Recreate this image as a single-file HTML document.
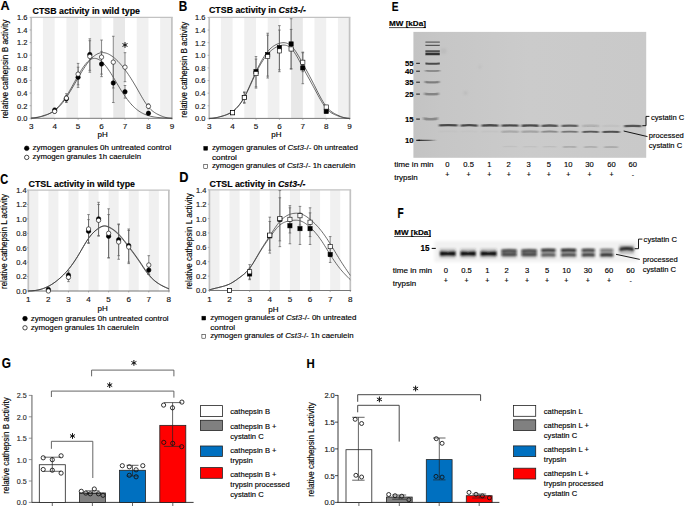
<!DOCTYPE html><html><head><meta charset="utf-8"><style>html,body{margin:0;padding:0;background:#fff;}svg{display:block;} svg text{stroke:#000;stroke-width:0.15px;}</style></head><body><svg width="685" height="506" viewBox="0 0 685 506" font-family='"Liberation Sans", sans-serif'>
<rect width="685" height="506" fill="#fff"/>
<rect x="42.92" y="17.34" width="11.73" height="100.96" fill="#f0f0f0"/>
<rect x="66.38" y="17.34" width="11.72" height="100.96" fill="#f0f0f0"/>
<rect x="89.83" y="17.34" width="11.72" height="100.96" fill="#f0f0f0"/>
<rect x="113.28" y="17.34" width="11.72" height="100.96" fill="#e8e8e8"/>
<rect x="136.72" y="17.34" width="11.72" height="100.96" fill="#f0f0f0"/>
<rect x="160.17" y="17.34" width="11.72" height="100.96" fill="#f0f0f0"/>
<line x1="31.00" y1="17.34" x2="172.70" y2="17.34" stroke="#c2c2c2" stroke-width="1.3"/>
<line x1="171.90" y1="17.34" x2="171.90" y2="118.30" stroke="#c2c2c2" stroke-width="1.7"/>
<line x1="31.20" y1="17.34" x2="31.20" y2="118.30" stroke="#c2c2c2" stroke-width="1.7"/>
<line x1="29.60" y1="118.30" x2="31.20" y2="118.30" stroke="#999" stroke-width="0.7"/>
<text x="27.40" y="121.20" font-size="8.1" text-anchor="end" textLength="10.40" lengthAdjust="spacingAndGlyphs" fill="#1a1a1a">0.0</text>
<line x1="29.60" y1="105.68" x2="31.20" y2="105.68" stroke="#999" stroke-width="0.7"/>
<text x="27.40" y="108.58" font-size="8.1" text-anchor="end" textLength="10.40" lengthAdjust="spacingAndGlyphs" fill="#1a1a1a">0.2</text>
<line x1="29.60" y1="93.06" x2="31.20" y2="93.06" stroke="#999" stroke-width="0.7"/>
<text x="27.40" y="95.96" font-size="8.1" text-anchor="end" textLength="10.40" lengthAdjust="spacingAndGlyphs" fill="#1a1a1a">0.4</text>
<line x1="29.60" y1="80.44" x2="31.20" y2="80.44" stroke="#999" stroke-width="0.7"/>
<text x="27.40" y="83.34" font-size="8.1" text-anchor="end" textLength="10.40" lengthAdjust="spacingAndGlyphs" fill="#1a1a1a">0.6</text>
<line x1="29.60" y1="67.82" x2="31.20" y2="67.82" stroke="#999" stroke-width="0.7"/>
<text x="27.40" y="70.72" font-size="8.1" text-anchor="end" textLength="10.40" lengthAdjust="spacingAndGlyphs" fill="#1a1a1a">0.8</text>
<line x1="29.60" y1="55.20" x2="31.20" y2="55.20" stroke="#999" stroke-width="0.7"/>
<text x="27.40" y="58.10" font-size="8.1" text-anchor="end" textLength="10.40" lengthAdjust="spacingAndGlyphs" fill="#1a1a1a">1.0</text>
<line x1="29.60" y1="42.58" x2="31.20" y2="42.58" stroke="#999" stroke-width="0.7"/>
<text x="27.40" y="45.48" font-size="8.1" text-anchor="end" textLength="10.40" lengthAdjust="spacingAndGlyphs" fill="#1a1a1a">1.2</text>
<line x1="29.60" y1="29.96" x2="31.20" y2="29.96" stroke="#999" stroke-width="0.7"/>
<text x="27.40" y="32.86" font-size="8.1" text-anchor="end" textLength="10.40" lengthAdjust="spacingAndGlyphs" fill="#1a1a1a">1.4</text>
<line x1="29.60" y1="17.34" x2="31.20" y2="17.34" stroke="#999" stroke-width="0.7"/>
<text x="27.40" y="20.24" font-size="8.1" text-anchor="end" textLength="10.40" lengthAdjust="spacingAndGlyphs" fill="#1a1a1a">1.6</text>
<line x1="31.20" y1="118.30" x2="172.70" y2="118.30" stroke="#777" stroke-width="1.0"/>
<line x1="31.20" y1="118.30" x2="31.20" y2="119.70" stroke="#888" stroke-width="0.7"/>
<text x="31.20" y="129.10" font-size="8.1" text-anchor="middle" fill="#1a1a1a">3</text>
<line x1="54.65" y1="118.30" x2="54.65" y2="119.70" stroke="#888" stroke-width="0.7"/>
<text x="54.65" y="129.10" font-size="8.1" text-anchor="middle" fill="#1a1a1a">4</text>
<line x1="78.10" y1="118.30" x2="78.10" y2="119.70" stroke="#888" stroke-width="0.7"/>
<text x="78.10" y="129.10" font-size="8.1" text-anchor="middle" fill="#1a1a1a">5</text>
<line x1="101.55" y1="118.30" x2="101.55" y2="119.70" stroke="#888" stroke-width="0.7"/>
<text x="101.55" y="129.10" font-size="8.1" text-anchor="middle" fill="#1a1a1a">6</text>
<line x1="125.00" y1="118.30" x2="125.00" y2="119.70" stroke="#888" stroke-width="0.7"/>
<text x="125.00" y="129.10" font-size="8.1" text-anchor="middle" fill="#1a1a1a">7</text>
<line x1="148.45" y1="118.30" x2="148.45" y2="119.70" stroke="#888" stroke-width="0.7"/>
<text x="148.45" y="129.10" font-size="8.1" text-anchor="middle" fill="#1a1a1a">8</text>
<line x1="171.90" y1="118.30" x2="171.90" y2="119.70" stroke="#888" stroke-width="0.7"/>
<text x="171.90" y="129.10" font-size="8.1" text-anchor="middle" fill="#1a1a1a">9</text>
<path d="M31.20,118.30 L32.37,118.20 L33.55,118.09 L34.72,117.95 L35.89,117.77 L37.06,117.54 L38.23,117.25 L39.41,116.92 L40.58,116.55 L41.75,116.16 L42.92,115.78 L44.10,115.40 L45.27,115.03 L46.44,114.66 L47.62,114.26 L48.79,113.83 L49.96,113.35 L51.13,112.82 L52.30,112.21 L53.48,111.52 L54.65,110.73 L55.82,109.83 L56.99,108.83 L58.17,107.73 L59.34,106.53 L60.51,105.23 L61.68,103.85 L62.86,102.38 L64.03,100.82 L65.20,99.19 L66.38,97.48 L67.55,95.70 L68.72,93.85 L69.89,91.95 L71.06,90.01 L72.24,88.03 L73.41,86.03 L74.58,84.00 L75.76,81.97 L76.93,79.94 L78.10,77.92 L79.27,75.91 L80.44,73.93 L81.62,71.99 L82.79,70.10 L83.96,68.26 L85.14,66.49 L86.31,64.79 L87.48,63.18 L88.65,61.66 L89.83,60.25 L91.00,58.95 L92.17,57.76 L93.34,56.70 L94.52,55.75 L95.69,54.92 L96.86,54.22 L98.03,53.64 L99.21,53.19 L100.38,52.87 L101.55,52.68 L102.72,52.62 L103.89,52.68 L105.07,52.87 L106.24,53.17 L107.41,53.58 L108.59,54.10 L109.76,54.72 L110.93,55.42 L112.10,56.22 L113.28,57.09 L114.45,58.04 L115.62,59.07 L116.79,60.17 L117.97,61.34 L119.14,62.57 L120.31,63.87 L121.48,65.24 L122.66,66.67 L123.83,68.16 L125.00,69.71 L126.17,71.32 L127.35,72.98 L128.52,74.70 L129.69,76.47 L130.86,78.28 L132.03,80.15 L133.21,82.05 L134.38,84.00 L135.55,85.99 L136.72,88.01 L137.90,90.07 L139.07,92.14 L140.24,94.21 L141.41,96.25 L142.59,98.26 L143.76,100.20 L144.93,102.05 L146.10,103.81 L147.28,105.45 L148.45,106.94 L149.62,108.28 L150.80,109.48 L151.97,110.54 L153.14,111.49 L154.31,112.33 L155.49,113.08 L156.66,113.76 L157.83,114.37 L159.00,114.93 L160.17,115.46 L161.35,115.96 L162.52,116.43 L163.69,116.86 L164.86,117.23 L166.04,117.54 L167.21,117.78 L168.38,117.96 L169.56,118.10 L170.73,118.21 L171.90,118.30" fill="none" stroke="#3a3a3a" stroke-width="0.75" stroke-linejoin="round"/>
<path d="M31.20,117.90 L32.37,117.82 L33.55,117.73 L34.72,117.62 L35.89,117.49 L37.06,117.34 L38.23,117.17 L39.41,116.96 L40.58,116.73 L41.75,116.47 L42.92,116.16 L44.10,115.82 L45.27,115.43 L46.44,114.98 L47.62,114.49 L48.79,113.93 L49.96,113.31 L51.13,112.63 L52.30,111.87 L53.48,111.03 L54.65,110.11 L55.82,109.11 L56.99,108.02 L58.17,106.84 L59.34,105.57 L60.51,104.21 L61.68,102.76 L62.86,101.22 L64.03,99.58 L65.20,97.87 L66.38,96.07 L67.55,94.19 L68.72,92.25 L69.89,90.25 L71.06,88.20 L72.24,86.11 L73.41,83.99 L74.58,81.86 L75.76,79.73 L76.93,77.61 L78.10,75.53 L79.27,73.49 L80.44,71.52 L81.62,69.63 L82.79,67.84 L83.96,66.16 L85.14,64.61 L86.31,63.21 L87.48,61.96 L88.65,60.88 L89.83,59.98 L91.00,59.28 L92.17,58.77 L93.34,58.46 L94.52,58.35 L95.69,58.44 L96.86,58.71 L98.03,59.15 L99.21,59.75 L100.38,60.53 L101.55,61.46 L102.72,62.54 L103.89,63.76 L105.07,65.11 L106.24,66.59 L107.41,68.16 L108.59,69.84 L109.76,71.60 L110.93,73.42 L112.10,75.30 L113.28,77.23 L114.45,79.18 L115.62,81.15 L116.79,83.13 L117.97,85.10 L119.14,87.05 L120.31,88.97 L121.48,90.86 L122.66,92.70 L123.83,94.48 L125.00,96.21 L126.17,97.87 L127.35,99.47 L128.52,100.99 L129.69,102.43 L130.86,103.80 L132.03,105.09 L133.21,106.30 L134.38,107.43 L135.55,108.48 L136.72,109.46 L137.90,110.36 L139.07,111.19 L140.24,111.96 L141.41,112.66 L142.59,113.29 L143.76,113.87 L144.93,114.39 L146.10,114.86 L147.28,115.29 L148.45,115.67 L149.62,116.00 L150.80,116.30 L151.97,116.57 L153.14,116.81 L154.31,117.01 L155.49,117.19 L156.66,117.35 L157.83,117.49 L159.00,117.61 L160.17,117.72 L161.35,117.81 L162.52,117.88 L163.69,117.95 L164.86,118.01 L166.04,118.05 L167.21,118.09 L168.38,118.13 L169.56,118.16 L170.73,118.18 L171.90,118.20" fill="none" stroke="#3a3a3a" stroke-width="0.75" stroke-linejoin="round"/>
<line x1="54.65" y1="108.20" x2="54.65" y2="111.99" stroke="#5a5a5a" stroke-width="0.7"/>
<line x1="53.35" y1="108.20" x2="55.95" y2="108.20" stroke="#5a5a5a" stroke-width="0.7"/>
<line x1="53.35" y1="111.99" x2="55.95" y2="111.99" stroke="#5a5a5a" stroke-width="0.7"/>
<line x1="66.38" y1="95.58" x2="66.38" y2="101.89" stroke="#5a5a5a" stroke-width="0.7"/>
<line x1="65.08" y1="95.58" x2="67.67" y2="95.58" stroke="#5a5a5a" stroke-width="0.7"/>
<line x1="65.08" y1="101.89" x2="67.67" y2="101.89" stroke="#5a5a5a" stroke-width="0.7"/>
<line x1="78.10" y1="67.19" x2="78.10" y2="87.38" stroke="#5a5a5a" stroke-width="0.7"/>
<line x1="76.80" y1="67.19" x2="79.40" y2="67.19" stroke="#5a5a5a" stroke-width="0.7"/>
<line x1="76.80" y1="87.38" x2="79.40" y2="87.38" stroke="#5a5a5a" stroke-width="0.7"/>
<line x1="89.83" y1="38.79" x2="89.83" y2="70.34" stroke="#5a5a5a" stroke-width="0.7"/>
<line x1="88.53" y1="38.79" x2="91.12" y2="38.79" stroke="#5a5a5a" stroke-width="0.7"/>
<line x1="88.53" y1="70.34" x2="91.12" y2="70.34" stroke="#5a5a5a" stroke-width="0.7"/>
<line x1="101.55" y1="51.41" x2="101.55" y2="76.65" stroke="#5a5a5a" stroke-width="0.7"/>
<line x1="100.25" y1="51.41" x2="102.85" y2="51.41" stroke="#5a5a5a" stroke-width="0.7"/>
<line x1="100.25" y1="76.65" x2="102.85" y2="76.65" stroke="#5a5a5a" stroke-width="0.7"/>
<line x1="113.28" y1="63.40" x2="113.28" y2="102.52" stroke="#5a5a5a" stroke-width="0.7"/>
<line x1="111.98" y1="63.40" x2="114.58" y2="63.40" stroke="#5a5a5a" stroke-width="0.7"/>
<line x1="111.98" y1="102.52" x2="114.58" y2="102.52" stroke="#5a5a5a" stroke-width="0.7"/>
<line x1="125.00" y1="85.49" x2="125.00" y2="98.11" stroke="#5a5a5a" stroke-width="0.7"/>
<line x1="123.70" y1="85.49" x2="126.30" y2="85.49" stroke="#5a5a5a" stroke-width="0.7"/>
<line x1="123.70" y1="98.11" x2="126.30" y2="98.11" stroke="#5a5a5a" stroke-width="0.7"/>
<line x1="148.45" y1="111.36" x2="148.45" y2="115.14" stroke="#5a5a5a" stroke-width="0.7"/>
<line x1="147.15" y1="111.36" x2="149.75" y2="111.36" stroke="#5a5a5a" stroke-width="0.7"/>
<line x1="147.15" y1="115.14" x2="149.75" y2="115.14" stroke="#5a5a5a" stroke-width="0.7"/>
<line x1="54.65" y1="109.47" x2="54.65" y2="113.25" stroke="#5a5a5a" stroke-width="0.7"/>
<line x1="53.35" y1="109.47" x2="55.95" y2="109.47" stroke="#5a5a5a" stroke-width="0.7"/>
<line x1="53.35" y1="113.25" x2="55.95" y2="113.25" stroke="#5a5a5a" stroke-width="0.7"/>
<line x1="66.38" y1="93.69" x2="66.38" y2="102.52" stroke="#5a5a5a" stroke-width="0.7"/>
<line x1="65.08" y1="93.69" x2="67.67" y2="93.69" stroke="#5a5a5a" stroke-width="0.7"/>
<line x1="65.08" y1="102.52" x2="67.67" y2="102.52" stroke="#5a5a5a" stroke-width="0.7"/>
<line x1="78.10" y1="63.40" x2="78.10" y2="84.86" stroke="#5a5a5a" stroke-width="0.7"/>
<line x1="76.80" y1="63.40" x2="79.40" y2="63.40" stroke="#5a5a5a" stroke-width="0.7"/>
<line x1="76.80" y1="84.86" x2="79.40" y2="84.86" stroke="#5a5a5a" stroke-width="0.7"/>
<line x1="89.83" y1="40.69" x2="89.83" y2="72.24" stroke="#5a5a5a" stroke-width="0.7"/>
<line x1="88.53" y1="40.69" x2="91.12" y2="40.69" stroke="#5a5a5a" stroke-width="0.7"/>
<line x1="88.53" y1="72.24" x2="91.12" y2="72.24" stroke="#5a5a5a" stroke-width="0.7"/>
<line x1="101.55" y1="40.06" x2="101.55" y2="74.13" stroke="#5a5a5a" stroke-width="0.7"/>
<line x1="100.25" y1="40.06" x2="102.85" y2="40.06" stroke="#5a5a5a" stroke-width="0.7"/>
<line x1="100.25" y1="74.13" x2="102.85" y2="74.13" stroke="#5a5a5a" stroke-width="0.7"/>
<line x1="113.28" y1="36.27" x2="113.28" y2="88.01" stroke="#5a5a5a" stroke-width="0.7"/>
<line x1="111.98" y1="36.27" x2="114.58" y2="36.27" stroke="#5a5a5a" stroke-width="0.7"/>
<line x1="111.98" y1="88.01" x2="114.58" y2="88.01" stroke="#5a5a5a" stroke-width="0.7"/>
<line x1="125.00" y1="52.68" x2="125.00" y2="81.70" stroke="#5a5a5a" stroke-width="0.7"/>
<line x1="123.70" y1="52.68" x2="126.30" y2="52.68" stroke="#5a5a5a" stroke-width="0.7"/>
<line x1="123.70" y1="81.70" x2="126.30" y2="81.70" stroke="#5a5a5a" stroke-width="0.7"/>
<line x1="148.45" y1="103.79" x2="148.45" y2="108.83" stroke="#5a5a5a" stroke-width="0.7"/>
<line x1="147.15" y1="103.79" x2="149.75" y2="103.79" stroke="#5a5a5a" stroke-width="0.7"/>
<line x1="147.15" y1="108.83" x2="149.75" y2="108.83" stroke="#5a5a5a" stroke-width="0.7"/>
<circle cx="54.65" cy="110.10" r="2.2" fill="#000" stroke="#000" stroke-width="0.6"/>
<circle cx="66.38" cy="98.74" r="2.2" fill="#000" stroke="#000" stroke-width="0.6"/>
<circle cx="78.10" cy="77.28" r="2.2" fill="#000" stroke="#000" stroke-width="0.6"/>
<circle cx="89.83" cy="54.57" r="2.2" fill="#000" stroke="#000" stroke-width="0.6"/>
<circle cx="101.55" cy="64.03" r="2.2" fill="#000" stroke="#000" stroke-width="0.6"/>
<circle cx="113.28" cy="82.96" r="2.2" fill="#000" stroke="#000" stroke-width="0.6"/>
<circle cx="125.00" cy="91.80" r="2.2" fill="#000" stroke="#000" stroke-width="0.6"/>
<circle cx="148.45" cy="113.25" r="2.2" fill="#000" stroke="#000" stroke-width="0.6"/>
<circle cx="54.65" cy="111.36" r="2.2" fill="#fff" stroke="#000" stroke-width="0.6"/>
<circle cx="66.38" cy="98.11" r="2.2" fill="#fff" stroke="#000" stroke-width="0.6"/>
<circle cx="78.10" cy="74.13" r="2.2" fill="#fff" stroke="#000" stroke-width="0.6"/>
<circle cx="89.83" cy="56.46" r="2.2" fill="#fff" stroke="#000" stroke-width="0.6"/>
<circle cx="101.55" cy="57.09" r="2.2" fill="#fff" stroke="#000" stroke-width="0.6"/>
<circle cx="113.28" cy="62.14" r="2.2" fill="#fff" stroke="#000" stroke-width="0.6"/>
<circle cx="125.00" cy="67.19" r="2.2" fill="#fff" stroke="#000" stroke-width="0.6"/>
<circle cx="148.45" cy="106.31" r="2.2" fill="#fff" stroke="#000" stroke-width="0.6"/>
<rect x="220.90" y="17.44" width="11.70" height="100.96" fill="#f0f0f0"/>
<rect x="244.30" y="17.44" width="11.70" height="100.96" fill="#f0f0f0"/>
<rect x="267.70" y="17.44" width="11.70" height="100.96" fill="#f0f0f0"/>
<rect x="291.10" y="17.44" width="11.70" height="100.96" fill="#e8e8e8"/>
<rect x="314.50" y="17.44" width="11.70" height="100.96" fill="#f0f0f0"/>
<rect x="337.90" y="17.44" width="11.70" height="100.96" fill="#f0f0f0"/>
<line x1="209.00" y1="17.44" x2="350.40" y2="17.44" stroke="#c2c2c2" stroke-width="1.3"/>
<line x1="349.60" y1="17.44" x2="349.60" y2="118.40" stroke="#c2c2c2" stroke-width="1.7"/>
<line x1="209.20" y1="17.44" x2="209.20" y2="118.40" stroke="#c2c2c2" stroke-width="1.7"/>
<line x1="207.60" y1="118.40" x2="209.20" y2="118.40" stroke="#999" stroke-width="0.7"/>
<text x="205.50" y="121.30" font-size="8.1" text-anchor="end" textLength="10.40" lengthAdjust="spacingAndGlyphs" fill="#1a1a1a">0.0</text>
<line x1="207.60" y1="105.78" x2="209.20" y2="105.78" stroke="#999" stroke-width="0.7"/>
<text x="205.50" y="108.68" font-size="8.1" text-anchor="end" textLength="10.40" lengthAdjust="spacingAndGlyphs" fill="#1a1a1a">0.2</text>
<line x1="207.60" y1="93.16" x2="209.20" y2="93.16" stroke="#999" stroke-width="0.7"/>
<text x="205.50" y="96.06" font-size="8.1" text-anchor="end" textLength="10.40" lengthAdjust="spacingAndGlyphs" fill="#1a1a1a">0.4</text>
<line x1="207.60" y1="80.54" x2="209.20" y2="80.54" stroke="#999" stroke-width="0.7"/>
<text x="205.50" y="83.44" font-size="8.1" text-anchor="end" textLength="10.40" lengthAdjust="spacingAndGlyphs" fill="#1a1a1a">0.6</text>
<line x1="207.60" y1="67.92" x2="209.20" y2="67.92" stroke="#999" stroke-width="0.7"/>
<text x="205.50" y="70.82" font-size="8.1" text-anchor="end" textLength="10.40" lengthAdjust="spacingAndGlyphs" fill="#1a1a1a">0.8</text>
<line x1="207.60" y1="55.30" x2="209.20" y2="55.30" stroke="#999" stroke-width="0.7"/>
<text x="205.50" y="58.20" font-size="8.1" text-anchor="end" textLength="10.40" lengthAdjust="spacingAndGlyphs" fill="#1a1a1a">1.0</text>
<line x1="207.60" y1="42.68" x2="209.20" y2="42.68" stroke="#999" stroke-width="0.7"/>
<text x="205.50" y="45.58" font-size="8.1" text-anchor="end" textLength="10.40" lengthAdjust="spacingAndGlyphs" fill="#1a1a1a">1.2</text>
<line x1="207.60" y1="30.06" x2="209.20" y2="30.06" stroke="#999" stroke-width="0.7"/>
<text x="205.50" y="32.96" font-size="8.1" text-anchor="end" textLength="10.40" lengthAdjust="spacingAndGlyphs" fill="#1a1a1a">1.4</text>
<line x1="207.60" y1="17.44" x2="209.20" y2="17.44" stroke="#999" stroke-width="0.7"/>
<text x="205.50" y="20.34" font-size="8.1" text-anchor="end" textLength="10.40" lengthAdjust="spacingAndGlyphs" fill="#1a1a1a">1.6</text>
<line x1="209.20" y1="118.40" x2="350.40" y2="118.40" stroke="#777" stroke-width="1.0"/>
<line x1="209.20" y1="118.40" x2="209.20" y2="119.80" stroke="#888" stroke-width="0.7"/>
<text x="209.20" y="129.10" font-size="8.1" text-anchor="middle" fill="#1a1a1a">3</text>
<line x1="232.60" y1="118.40" x2="232.60" y2="119.80" stroke="#888" stroke-width="0.7"/>
<text x="232.60" y="129.10" font-size="8.1" text-anchor="middle" fill="#1a1a1a">4</text>
<line x1="256.00" y1="118.40" x2="256.00" y2="119.80" stroke="#888" stroke-width="0.7"/>
<text x="256.00" y="129.10" font-size="8.1" text-anchor="middle" fill="#1a1a1a">5</text>
<line x1="279.40" y1="118.40" x2="279.40" y2="119.80" stroke="#888" stroke-width="0.7"/>
<text x="279.40" y="129.10" font-size="8.1" text-anchor="middle" fill="#1a1a1a">6</text>
<line x1="302.80" y1="118.40" x2="302.80" y2="119.80" stroke="#888" stroke-width="0.7"/>
<text x="302.80" y="129.10" font-size="8.1" text-anchor="middle" fill="#1a1a1a">7</text>
<line x1="326.20" y1="118.40" x2="326.20" y2="119.80" stroke="#888" stroke-width="0.7"/>
<text x="326.20" y="129.10" font-size="8.1" text-anchor="middle" fill="#1a1a1a">8</text>
<line x1="349.60" y1="118.40" x2="349.60" y2="119.80" stroke="#888" stroke-width="0.7"/>
<text x="349.60" y="129.10" font-size="8.1" text-anchor="middle" fill="#1a1a1a">9</text>
<path d="M209.20,118.40 L210.37,118.34 L211.54,118.27 L212.71,118.18 L213.88,118.06 L215.05,117.90 L216.22,117.68 L217.39,117.43 L218.56,117.14 L219.73,116.83 L220.90,116.51 L222.07,116.18 L223.24,115.84 L224.41,115.47 L225.58,115.08 L226.75,114.64 L227.92,114.15 L229.09,113.60 L230.26,112.97 L231.43,112.26 L232.60,111.46 L233.77,110.56 L234.94,109.54 L236.11,108.42 L237.28,107.18 L238.45,105.81 L239.62,104.32 L240.79,102.69 L241.96,100.92 L243.13,99.01 L244.30,96.95 L245.47,94.73 L246.64,92.39 L247.81,89.94 L248.98,87.40 L250.15,84.80 L251.32,82.16 L252.49,79.51 L253.66,76.87 L254.83,74.26 L256.00,71.71 L257.17,69.23 L258.34,66.83 L259.51,64.53 L260.68,62.33 L261.85,60.23 L263.02,58.24 L264.19,56.37 L265.36,54.62 L266.53,53.00 L267.70,51.51 L268.87,50.17 L270.04,48.96 L271.21,47.87 L272.38,46.91 L273.55,46.07 L274.72,45.33 L275.89,44.69 L277.06,44.14 L278.23,43.69 L279.40,43.31 L280.57,43.01 L281.74,42.80 L282.91,42.69 L284.08,42.69 L285.25,42.82 L286.42,43.09 L287.59,43.51 L288.76,44.10 L289.93,44.87 L291.10,45.84 L292.27,47.00 L293.44,48.35 L294.61,49.87 L295.78,51.53 L296.95,53.33 L298.12,55.23 L299.29,57.21 L300.46,59.27 L301.63,61.37 L302.80,63.50 L303.97,65.65 L305.14,67.80 L306.31,69.97 L307.48,72.14 L308.65,74.34 L309.82,76.55 L310.99,78.78 L312.16,81.03 L313.33,83.30 L314.50,85.59 L315.67,87.90 L316.84,90.22 L318.01,92.52 L319.18,94.78 L320.35,96.99 L321.52,99.12 L322.69,101.14 L323.86,103.05 L325.03,104.81 L326.20,106.41 L327.37,107.84 L328.54,109.09 L329.71,110.20 L330.88,111.18 L332.05,112.04 L333.22,112.81 L334.39,113.50 L335.56,114.12 L336.73,114.70 L337.90,115.25 L339.07,115.78 L340.24,116.28 L341.41,116.75 L342.58,117.17 L343.75,117.52 L344.92,117.79 L346.09,118.00 L347.26,118.16 L348.43,118.29 L349.60,118.40" fill="none" stroke="#3a3a3a" stroke-width="0.75" stroke-linejoin="round"/>
<path d="M209.20,118.40 L210.37,118.34 L211.54,118.27 L212.71,118.18 L213.88,118.06 L215.05,117.90 L216.22,117.68 L217.39,117.43 L218.56,117.14 L219.73,116.83 L220.90,116.51 L222.07,116.17 L223.24,115.82 L224.41,115.44 L225.58,115.04 L226.75,114.59 L227.92,114.09 L229.09,113.54 L230.26,112.92 L231.43,112.23 L232.60,111.46 L233.77,110.60 L234.94,109.64 L236.11,108.57 L237.28,107.39 L238.45,106.10 L239.62,104.67 L240.79,103.12 L241.96,101.42 L243.13,99.58 L244.30,97.58 L245.47,95.42 L246.64,93.13 L247.81,90.72 L248.98,88.23 L250.15,85.69 L251.32,83.11 L252.49,80.52 L253.66,77.95 L254.83,75.42 L256.00,72.97 L257.17,70.61 L258.34,68.34 L259.51,66.18 L260.68,64.12 L261.85,62.16 L263.02,60.31 L264.19,58.57 L265.36,56.95 L266.53,55.43 L267.70,54.04 L268.87,52.76 L270.04,51.60 L271.21,50.54 L272.38,49.59 L273.55,48.74 L274.72,47.99 L275.89,47.32 L277.06,46.75 L278.23,46.25 L279.40,45.84 L280.57,45.49 L281.74,45.24 L282.91,45.09 L284.08,45.07 L285.25,45.18 L286.42,45.44 L287.59,45.88 L288.76,46.50 L289.93,47.32 L291.10,48.36 L292.27,49.63 L293.44,51.10 L294.61,52.76 L295.78,54.58 L296.95,56.53 L298.12,58.58 L299.29,60.70 L300.46,62.88 L301.63,65.09 L302.80,67.29 L303.97,69.47 L305.14,71.63 L306.31,73.77 L307.48,75.91 L308.65,78.03 L309.82,80.16 L310.99,82.28 L312.16,84.42 L313.33,86.57 L314.50,88.74 L315.67,90.93 L316.84,93.13 L318.01,95.31 L319.18,97.44 L320.35,99.52 L321.52,101.52 L322.69,103.42 L323.86,105.20 L325.03,106.83 L326.20,108.30 L327.37,109.60 L328.54,110.72 L329.71,111.70 L330.88,112.55 L332.05,113.28 L333.22,113.92 L334.39,114.48 L335.56,114.98 L336.73,115.44 L337.90,115.88 L339.07,116.30 L340.24,116.71 L341.41,117.09 L342.58,117.42 L343.75,117.71 L344.92,117.92 L346.09,118.09 L347.26,118.22 L348.43,118.31 L349.60,118.40" fill="none" stroke="#3a3a3a" stroke-width="0.75" stroke-linejoin="round"/>
<line x1="232.60" y1="111.46" x2="232.60" y2="113.98" stroke="#5a5a5a" stroke-width="0.7"/>
<line x1="231.30" y1="111.46" x2="233.90" y2="111.46" stroke="#5a5a5a" stroke-width="0.7"/>
<line x1="231.30" y1="113.98" x2="233.90" y2="113.98" stroke="#5a5a5a" stroke-width="0.7"/>
<line x1="244.30" y1="92.53" x2="244.30" y2="102.62" stroke="#5a5a5a" stroke-width="0.7"/>
<line x1="243.00" y1="92.53" x2="245.60" y2="92.53" stroke="#5a5a5a" stroke-width="0.7"/>
<line x1="243.00" y1="102.62" x2="245.60" y2="102.62" stroke="#5a5a5a" stroke-width="0.7"/>
<line x1="256.00" y1="56.56" x2="256.00" y2="86.85" stroke="#5a5a5a" stroke-width="0.7"/>
<line x1="254.70" y1="56.56" x2="257.30" y2="56.56" stroke="#5a5a5a" stroke-width="0.7"/>
<line x1="254.70" y1="86.85" x2="257.30" y2="86.85" stroke="#5a5a5a" stroke-width="0.7"/>
<line x1="267.70" y1="33.22" x2="267.70" y2="76.12" stroke="#5a5a5a" stroke-width="0.7"/>
<line x1="266.40" y1="33.22" x2="269.00" y2="33.22" stroke="#5a5a5a" stroke-width="0.7"/>
<line x1="266.40" y1="76.12" x2="269.00" y2="76.12" stroke="#5a5a5a" stroke-width="0.7"/>
<line x1="279.40" y1="25.64" x2="279.40" y2="69.81" stroke="#5a5a5a" stroke-width="0.7"/>
<line x1="278.10" y1="25.64" x2="280.70" y2="25.64" stroke="#5a5a5a" stroke-width="0.7"/>
<line x1="278.10" y1="69.81" x2="280.70" y2="69.81" stroke="#5a5a5a" stroke-width="0.7"/>
<line x1="291.10" y1="18.70" x2="291.10" y2="69.18" stroke="#5a5a5a" stroke-width="0.7"/>
<line x1="289.80" y1="18.70" x2="292.40" y2="18.70" stroke="#5a5a5a" stroke-width="0.7"/>
<line x1="289.80" y1="69.18" x2="292.40" y2="69.18" stroke="#5a5a5a" stroke-width="0.7"/>
<line x1="302.80" y1="52.14" x2="302.80" y2="83.69" stroke="#5a5a5a" stroke-width="0.7"/>
<line x1="301.50" y1="52.14" x2="304.10" y2="52.14" stroke="#5a5a5a" stroke-width="0.7"/>
<line x1="301.50" y1="83.69" x2="304.10" y2="83.69" stroke="#5a5a5a" stroke-width="0.7"/>
<line x1="326.20" y1="110.20" x2="326.20" y2="112.72" stroke="#5a5a5a" stroke-width="0.7"/>
<line x1="324.90" y1="110.20" x2="327.50" y2="110.20" stroke="#5a5a5a" stroke-width="0.7"/>
<line x1="324.90" y1="112.72" x2="327.50" y2="112.72" stroke="#5a5a5a" stroke-width="0.7"/>
<line x1="232.60" y1="111.46" x2="232.60" y2="113.98" stroke="#5a5a5a" stroke-width="0.7"/>
<line x1="231.30" y1="111.46" x2="233.90" y2="111.46" stroke="#5a5a5a" stroke-width="0.7"/>
<line x1="231.30" y1="113.98" x2="233.90" y2="113.98" stroke="#5a5a5a" stroke-width="0.7"/>
<line x1="244.30" y1="91.90" x2="244.30" y2="103.26" stroke="#5a5a5a" stroke-width="0.7"/>
<line x1="243.00" y1="91.90" x2="245.60" y2="91.90" stroke="#5a5a5a" stroke-width="0.7"/>
<line x1="243.00" y1="103.26" x2="245.60" y2="103.26" stroke="#5a5a5a" stroke-width="0.7"/>
<line x1="256.00" y1="59.09" x2="256.00" y2="88.11" stroke="#5a5a5a" stroke-width="0.7"/>
<line x1="254.70" y1="59.09" x2="257.30" y2="59.09" stroke="#5a5a5a" stroke-width="0.7"/>
<line x1="254.70" y1="88.11" x2="257.30" y2="88.11" stroke="#5a5a5a" stroke-width="0.7"/>
<line x1="267.70" y1="35.11" x2="267.70" y2="78.02" stroke="#5a5a5a" stroke-width="0.7"/>
<line x1="266.40" y1="35.11" x2="269.00" y2="35.11" stroke="#5a5a5a" stroke-width="0.7"/>
<line x1="266.40" y1="78.02" x2="269.00" y2="78.02" stroke="#5a5a5a" stroke-width="0.7"/>
<line x1="279.40" y1="30.06" x2="279.40" y2="71.71" stroke="#5a5a5a" stroke-width="0.7"/>
<line x1="278.10" y1="30.06" x2="280.70" y2="30.06" stroke="#5a5a5a" stroke-width="0.7"/>
<line x1="278.10" y1="71.71" x2="280.70" y2="71.71" stroke="#5a5a5a" stroke-width="0.7"/>
<line x1="291.10" y1="29.43" x2="291.10" y2="68.55" stroke="#5a5a5a" stroke-width="0.7"/>
<line x1="289.80" y1="29.43" x2="292.40" y2="29.43" stroke="#5a5a5a" stroke-width="0.7"/>
<line x1="289.80" y1="68.55" x2="292.40" y2="68.55" stroke="#5a5a5a" stroke-width="0.7"/>
<line x1="302.80" y1="52.78" x2="302.80" y2="71.71" stroke="#5a5a5a" stroke-width="0.7"/>
<line x1="301.50" y1="52.78" x2="304.10" y2="52.78" stroke="#5a5a5a" stroke-width="0.7"/>
<line x1="301.50" y1="71.71" x2="304.10" y2="71.71" stroke="#5a5a5a" stroke-width="0.7"/>
<line x1="326.20" y1="105.78" x2="326.20" y2="108.30" stroke="#5a5a5a" stroke-width="0.7"/>
<line x1="324.90" y1="105.78" x2="327.50" y2="105.78" stroke="#5a5a5a" stroke-width="0.7"/>
<line x1="324.90" y1="108.30" x2="327.50" y2="108.30" stroke="#5a5a5a" stroke-width="0.7"/>
<rect x="230.50" y="110.62" width="4.20" height="4.20" fill="#000" stroke="#000" stroke-width="0.6"/>
<rect x="242.20" y="95.48" width="4.20" height="4.20" fill="#000" stroke="#000" stroke-width="0.6"/>
<rect x="253.90" y="69.61" width="4.20" height="4.20" fill="#000" stroke="#000" stroke-width="0.6"/>
<rect x="265.60" y="52.57" width="4.20" height="4.20" fill="#000" stroke="#000" stroke-width="0.6"/>
<rect x="277.30" y="45.63" width="4.20" height="4.20" fill="#000" stroke="#000" stroke-width="0.6"/>
<rect x="289.00" y="41.84" width="4.20" height="4.20" fill="#000" stroke="#000" stroke-width="0.6"/>
<rect x="300.70" y="65.82" width="4.20" height="4.20" fill="#000" stroke="#000" stroke-width="0.6"/>
<rect x="324.10" y="109.36" width="4.20" height="4.20" fill="#000" stroke="#000" stroke-width="0.6"/>
<rect x="230.50" y="110.62" width="4.20" height="4.20" fill="#fff" stroke="#000" stroke-width="0.6"/>
<rect x="242.20" y="95.48" width="4.20" height="4.20" fill="#fff" stroke="#000" stroke-width="0.6"/>
<rect x="253.90" y="71.50" width="4.20" height="4.20" fill="#fff" stroke="#000" stroke-width="0.6"/>
<rect x="265.60" y="54.46" width="4.20" height="4.20" fill="#fff" stroke="#000" stroke-width="0.6"/>
<rect x="277.30" y="48.78" width="4.20" height="4.20" fill="#fff" stroke="#000" stroke-width="0.6"/>
<rect x="289.00" y="46.89" width="4.20" height="4.20" fill="#fff" stroke="#000" stroke-width="0.6"/>
<rect x="300.70" y="60.14" width="4.20" height="4.20" fill="#fff" stroke="#000" stroke-width="0.6"/>
<rect x="324.10" y="104.94" width="4.20" height="4.20" fill="#fff" stroke="#000" stroke-width="0.6"/>
<rect x="28.30" y="190.06" width="10.04" height="100.94" fill="#f0f0f0"/>
<rect x="48.38" y="190.06" width="10.04" height="100.94" fill="#f0f0f0"/>
<rect x="68.46" y="190.06" width="10.04" height="100.94" fill="#f0f0f0"/>
<rect x="88.54" y="190.06" width="10.04" height="100.94" fill="#f0f0f0"/>
<rect x="108.62" y="190.06" width="10.04" height="100.94" fill="#f0f0f0"/>
<rect x="128.70" y="190.06" width="10.04" height="100.94" fill="#f0f0f0"/>
<rect x="148.78" y="190.06" width="10.04" height="100.94" fill="#f0f0f0"/>
<line x1="28.10" y1="190.06" x2="169.66" y2="190.06" stroke="#c2c2c2" stroke-width="1.3"/>
<line x1="168.86" y1="190.06" x2="168.86" y2="291.00" stroke="#c2c2c2" stroke-width="1.7"/>
<line x1="28.30" y1="190.06" x2="28.30" y2="291.00" stroke="#c2c2c2" stroke-width="1.7"/>
<line x1="26.70" y1="291.00" x2="28.30" y2="291.00" stroke="#999" stroke-width="0.7"/>
<text x="26.60" y="293.90" font-size="8.1" text-anchor="end" textLength="10.40" lengthAdjust="spacingAndGlyphs" fill="#1a1a1a">0.0</text>
<line x1="26.70" y1="276.58" x2="28.30" y2="276.58" stroke="#999" stroke-width="0.7"/>
<text x="26.60" y="279.48" font-size="8.1" text-anchor="end" textLength="10.40" lengthAdjust="spacingAndGlyphs" fill="#1a1a1a">0.2</text>
<line x1="26.70" y1="262.16" x2="28.30" y2="262.16" stroke="#999" stroke-width="0.7"/>
<text x="26.60" y="265.06" font-size="8.1" text-anchor="end" textLength="10.40" lengthAdjust="spacingAndGlyphs" fill="#1a1a1a">0.4</text>
<line x1="26.70" y1="247.74" x2="28.30" y2="247.74" stroke="#999" stroke-width="0.7"/>
<text x="26.60" y="250.64" font-size="8.1" text-anchor="end" textLength="10.40" lengthAdjust="spacingAndGlyphs" fill="#1a1a1a">0.6</text>
<line x1="26.70" y1="233.32" x2="28.30" y2="233.32" stroke="#999" stroke-width="0.7"/>
<text x="26.60" y="236.22" font-size="8.1" text-anchor="end" textLength="10.40" lengthAdjust="spacingAndGlyphs" fill="#1a1a1a">0.8</text>
<line x1="26.70" y1="218.90" x2="28.30" y2="218.90" stroke="#999" stroke-width="0.7"/>
<text x="26.60" y="221.80" font-size="8.1" text-anchor="end" textLength="10.40" lengthAdjust="spacingAndGlyphs" fill="#1a1a1a">1.0</text>
<line x1="26.70" y1="204.48" x2="28.30" y2="204.48" stroke="#999" stroke-width="0.7"/>
<text x="26.60" y="207.38" font-size="8.1" text-anchor="end" textLength="10.40" lengthAdjust="spacingAndGlyphs" fill="#1a1a1a">1.2</text>
<line x1="26.70" y1="190.06" x2="28.30" y2="190.06" stroke="#999" stroke-width="0.7"/>
<text x="26.60" y="192.96" font-size="8.1" text-anchor="end" textLength="10.40" lengthAdjust="spacingAndGlyphs" fill="#1a1a1a">1.4</text>
<line x1="28.30" y1="291.00" x2="169.66" y2="291.00" stroke="#777" stroke-width="1.0"/>
<line x1="28.30" y1="291.00" x2="28.30" y2="292.40" stroke="#888" stroke-width="0.7"/>
<text x="28.30" y="302.00" font-size="8.1" text-anchor="middle" fill="#1a1a1a">1</text>
<line x1="48.38" y1="291.00" x2="48.38" y2="292.40" stroke="#888" stroke-width="0.7"/>
<text x="48.38" y="302.00" font-size="8.1" text-anchor="middle" fill="#1a1a1a">2</text>
<line x1="68.46" y1="291.00" x2="68.46" y2="292.40" stroke="#888" stroke-width="0.7"/>
<text x="68.46" y="302.00" font-size="8.1" text-anchor="middle" fill="#1a1a1a">3</text>
<line x1="88.54" y1="291.00" x2="88.54" y2="292.40" stroke="#888" stroke-width="0.7"/>
<text x="88.54" y="302.00" font-size="8.1" text-anchor="middle" fill="#1a1a1a">4</text>
<line x1="108.62" y1="291.00" x2="108.62" y2="292.40" stroke="#888" stroke-width="0.7"/>
<text x="108.62" y="302.00" font-size="8.1" text-anchor="middle" fill="#1a1a1a">5</text>
<line x1="128.70" y1="291.00" x2="128.70" y2="292.40" stroke="#888" stroke-width="0.7"/>
<text x="128.70" y="302.00" font-size="8.1" text-anchor="middle" fill="#1a1a1a">6</text>
<line x1="148.78" y1="291.00" x2="148.78" y2="292.40" stroke="#888" stroke-width="0.7"/>
<text x="148.78" y="302.00" font-size="8.1" text-anchor="middle" fill="#1a1a1a">7</text>
<line x1="168.86" y1="291.00" x2="168.86" y2="292.40" stroke="#888" stroke-width="0.7"/>
<text x="168.86" y="302.00" font-size="8.1" text-anchor="middle" fill="#1a1a1a">8</text>
<path d="M28.30,291.00 L29.47,290.95 L30.64,290.90 L31.81,290.83 L32.99,290.74 L34.16,290.62 L35.33,290.47 L36.50,290.28 L37.67,290.06 L38.84,289.81 L40.01,289.52 L41.18,289.19 L42.36,288.83 L43.53,288.43 L44.70,287.99 L45.87,287.50 L47.04,286.98 L48.21,286.40 L49.38,285.78 L50.56,285.11 L51.73,284.39 L52.90,283.63 L54.07,282.82 L55.24,281.97 L56.41,281.08 L57.58,280.15 L58.75,279.18 L59.93,278.17 L61.10,277.12 L62.27,276.03 L63.44,274.88 L64.61,273.69 L65.78,272.44 L66.95,271.14 L68.13,269.77 L69.30,268.34 L70.47,266.85 L71.64,265.30 L72.81,263.68 L73.98,262.01 L75.15,260.27 L76.32,258.46 L77.50,256.60 L78.67,254.67 L79.84,252.69 L81.01,250.67 L82.18,248.64 L83.35,246.62 L84.52,244.63 L85.70,242.70 L86.87,240.84 L88.04,239.08 L89.21,237.45 L90.38,235.94 L91.55,234.55 L92.72,233.28 L93.89,232.10 L95.07,231.02 L96.24,230.03 L97.41,229.12 L98.58,228.27 L99.75,227.50 L100.92,226.82 L102.09,226.28 L103.27,225.91 L104.44,225.75 L105.61,225.83 L106.78,226.11 L107.95,226.54 L109.12,227.07 L110.29,227.66 L111.46,228.32 L112.64,229.05 L113.81,229.86 L114.98,230.74 L116.15,231.70 L117.32,232.75 L118.49,233.87 L119.66,235.09 L120.84,236.38 L122.01,237.74 L123.18,239.16 L124.35,240.62 L125.52,242.12 L126.69,243.65 L127.86,245.19 L129.03,246.74 L130.21,248.29 L131.38,249.84 L132.55,251.40 L133.72,252.98 L134.89,254.57 L136.06,256.19 L137.23,257.83 L138.41,259.51 L139.58,261.23 L140.75,262.97 L141.92,264.73 L143.09,266.48 L144.26,268.21 L145.43,269.91 L146.60,271.55 L147.78,273.13 L148.95,274.62 L150.12,276.03 L151.29,277.33 L152.46,278.55 L153.63,279.69 L154.80,280.74 L155.98,281.72 L157.15,282.62 L158.32,283.45 L159.49,284.22 L160.66,284.93 L161.83,285.58 L163.00,286.19 L164.17,286.77 L165.35,287.31 L166.52,287.83 L167.69,288.34 L168.86,288.84" fill="none" stroke="#3a3a3a" stroke-width="0.75" stroke-linejoin="round"/>
<path d="M28.30,291.00 L29.47,290.95 L30.64,290.90 L31.81,290.83 L32.99,290.74 L34.16,290.62 L35.33,290.47 L36.50,290.28 L37.67,290.06 L38.84,289.81 L40.01,289.52 L41.18,289.19 L42.36,288.83 L43.53,288.43 L44.70,287.99 L45.87,287.50 L47.04,286.98 L48.21,286.40 L49.38,285.78 L50.56,285.11 L51.73,284.39 L52.90,283.63 L54.07,282.82 L55.24,281.97 L56.41,281.08 L57.58,280.15 L58.75,279.18 L59.93,278.17 L61.10,277.12 L62.27,276.03 L63.44,274.89 L64.61,273.69 L65.78,272.44 L66.95,271.14 L68.13,269.77 L69.30,268.34 L70.47,266.85 L71.64,265.30 L72.81,263.68 L73.98,262.00 L75.15,260.26 L76.32,258.46 L77.50,256.59 L78.67,254.67 L79.84,252.69 L81.01,250.68 L82.18,248.66 L83.35,246.64 L84.52,244.65 L85.70,242.72 L86.87,240.86 L88.04,239.09 L89.21,237.44 L90.38,235.91 L91.55,234.50 L92.72,233.21 L93.89,232.02 L95.07,230.94 L96.24,229.96 L97.41,229.07 L98.58,228.27 L99.75,227.57 L100.92,226.97 L102.09,226.52 L103.27,226.22 L104.44,226.11 L105.61,226.20 L106.78,226.48 L107.95,226.90 L109.12,227.43 L110.29,228.04 L111.46,228.74 L112.64,229.51 L113.81,230.37 L114.98,231.31 L116.15,232.33 L117.32,233.42 L118.49,234.59 L119.66,235.83 L120.84,237.14 L122.01,238.51 L123.18,239.93 L124.35,241.39 L125.52,242.88 L126.69,244.39 L127.86,245.92 L129.03,247.46 L130.21,249.00 L131.38,250.54 L132.55,252.09 L133.72,253.67 L134.89,255.26 L136.06,256.88 L137.23,258.54 L138.41,260.23 L139.58,261.96 L140.75,263.72 L141.92,265.50 L143.09,267.27 L144.26,269.01 L145.43,270.71 L146.60,272.34 L147.78,273.89 L148.95,275.34 L150.12,276.67 L151.29,277.90 L152.46,279.03 L153.63,280.07 L154.80,281.02 L155.98,281.90 L157.15,282.72 L158.32,283.48 L159.49,284.19 L160.66,284.86 L161.83,285.50 L163.00,286.10 L164.17,286.68 L165.35,287.24 L166.52,287.78 L167.69,288.31 L168.86,288.84" fill="none" stroke="#3a3a3a" stroke-width="0.75" stroke-linejoin="round"/>
<line x1="48.38" y1="288.84" x2="48.38" y2="290.28" stroke="#5a5a5a" stroke-width="0.7"/>
<line x1="47.08" y1="288.84" x2="49.68" y2="288.84" stroke="#5a5a5a" stroke-width="0.7"/>
<line x1="47.08" y1="290.28" x2="49.68" y2="290.28" stroke="#5a5a5a" stroke-width="0.7"/>
<line x1="68.46" y1="270.81" x2="68.46" y2="279.46" stroke="#5a5a5a" stroke-width="0.7"/>
<line x1="67.16" y1="270.81" x2="69.76" y2="270.81" stroke="#5a5a5a" stroke-width="0.7"/>
<line x1="67.16" y1="279.46" x2="69.76" y2="279.46" stroke="#5a5a5a" stroke-width="0.7"/>
<line x1="88.54" y1="219.62" x2="88.54" y2="242.69" stroke="#5a5a5a" stroke-width="0.7"/>
<line x1="87.24" y1="219.62" x2="89.84" y2="219.62" stroke="#5a5a5a" stroke-width="0.7"/>
<line x1="87.24" y1="242.69" x2="89.84" y2="242.69" stroke="#5a5a5a" stroke-width="0.7"/>
<line x1="98.58" y1="202.32" x2="98.58" y2="235.48" stroke="#5a5a5a" stroke-width="0.7"/>
<line x1="97.28" y1="202.32" x2="99.88" y2="202.32" stroke="#5a5a5a" stroke-width="0.7"/>
<line x1="97.28" y1="235.48" x2="99.88" y2="235.48" stroke="#5a5a5a" stroke-width="0.7"/>
<line x1="108.62" y1="214.57" x2="108.62" y2="257.83" stroke="#5a5a5a" stroke-width="0.7"/>
<line x1="107.32" y1="214.57" x2="109.92" y2="214.57" stroke="#5a5a5a" stroke-width="0.7"/>
<line x1="107.32" y1="257.83" x2="109.92" y2="257.83" stroke="#5a5a5a" stroke-width="0.7"/>
<line x1="118.66" y1="223.95" x2="118.66" y2="255.67" stroke="#5a5a5a" stroke-width="0.7"/>
<line x1="117.36" y1="223.95" x2="119.96" y2="223.95" stroke="#5a5a5a" stroke-width="0.7"/>
<line x1="117.36" y1="255.67" x2="119.96" y2="255.67" stroke="#5a5a5a" stroke-width="0.7"/>
<line x1="128.70" y1="228.99" x2="128.70" y2="262.16" stroke="#5a5a5a" stroke-width="0.7"/>
<line x1="127.40" y1="228.99" x2="130.00" y2="228.99" stroke="#5a5a5a" stroke-width="0.7"/>
<line x1="127.40" y1="262.16" x2="130.00" y2="262.16" stroke="#5a5a5a" stroke-width="0.7"/>
<line x1="148.78" y1="265.76" x2="148.78" y2="274.42" stroke="#5a5a5a" stroke-width="0.7"/>
<line x1="147.48" y1="265.76" x2="150.08" y2="265.76" stroke="#5a5a5a" stroke-width="0.7"/>
<line x1="147.48" y1="274.42" x2="150.08" y2="274.42" stroke="#5a5a5a" stroke-width="0.7"/>
<line x1="48.38" y1="290.28" x2="48.38" y2="291.72" stroke="#5a5a5a" stroke-width="0.7"/>
<line x1="47.08" y1="290.28" x2="49.68" y2="290.28" stroke="#5a5a5a" stroke-width="0.7"/>
<line x1="47.08" y1="291.72" x2="49.68" y2="291.72" stroke="#5a5a5a" stroke-width="0.7"/>
<line x1="68.46" y1="272.98" x2="68.46" y2="281.63" stroke="#5a5a5a" stroke-width="0.7"/>
<line x1="67.16" y1="272.98" x2="69.76" y2="272.98" stroke="#5a5a5a" stroke-width="0.7"/>
<line x1="67.16" y1="281.63" x2="69.76" y2="281.63" stroke="#5a5a5a" stroke-width="0.7"/>
<line x1="88.54" y1="214.57" x2="88.54" y2="243.41" stroke="#5a5a5a" stroke-width="0.7"/>
<line x1="87.24" y1="214.57" x2="89.84" y2="214.57" stroke="#5a5a5a" stroke-width="0.7"/>
<line x1="87.24" y1="243.41" x2="89.84" y2="243.41" stroke="#5a5a5a" stroke-width="0.7"/>
<line x1="98.58" y1="204.48" x2="98.58" y2="236.20" stroke="#5a5a5a" stroke-width="0.7"/>
<line x1="97.28" y1="204.48" x2="99.88" y2="204.48" stroke="#5a5a5a" stroke-width="0.7"/>
<line x1="97.28" y1="236.20" x2="99.88" y2="236.20" stroke="#5a5a5a" stroke-width="0.7"/>
<line x1="108.62" y1="208.81" x2="108.62" y2="257.83" stroke="#5a5a5a" stroke-width="0.7"/>
<line x1="107.32" y1="208.81" x2="109.92" y2="208.81" stroke="#5a5a5a" stroke-width="0.7"/>
<line x1="107.32" y1="257.83" x2="109.92" y2="257.83" stroke="#5a5a5a" stroke-width="0.7"/>
<line x1="118.66" y1="224.67" x2="118.66" y2="259.28" stroke="#5a5a5a" stroke-width="0.7"/>
<line x1="117.36" y1="224.67" x2="119.96" y2="224.67" stroke="#5a5a5a" stroke-width="0.7"/>
<line x1="117.36" y1="259.28" x2="119.96" y2="259.28" stroke="#5a5a5a" stroke-width="0.7"/>
<line x1="128.70" y1="230.44" x2="128.70" y2="263.60" stroke="#5a5a5a" stroke-width="0.7"/>
<line x1="127.40" y1="230.44" x2="130.00" y2="230.44" stroke="#5a5a5a" stroke-width="0.7"/>
<line x1="127.40" y1="263.60" x2="130.00" y2="263.60" stroke="#5a5a5a" stroke-width="0.7"/>
<line x1="148.78" y1="255.67" x2="148.78" y2="274.42" stroke="#5a5a5a" stroke-width="0.7"/>
<line x1="147.48" y1="255.67" x2="150.08" y2="255.67" stroke="#5a5a5a" stroke-width="0.7"/>
<line x1="147.48" y1="274.42" x2="150.08" y2="274.42" stroke="#5a5a5a" stroke-width="0.7"/>
<circle cx="48.38" cy="289.56" r="2.2" fill="#000" stroke="#000" stroke-width="0.6"/>
<circle cx="68.46" cy="275.14" r="2.2" fill="#000" stroke="#000" stroke-width="0.6"/>
<circle cx="88.54" cy="231.16" r="2.2" fill="#000" stroke="#000" stroke-width="0.6"/>
<circle cx="98.58" cy="218.90" r="2.2" fill="#000" stroke="#000" stroke-width="0.6"/>
<circle cx="108.62" cy="236.20" r="2.2" fill="#000" stroke="#000" stroke-width="0.6"/>
<circle cx="118.66" cy="239.81" r="2.2" fill="#000" stroke="#000" stroke-width="0.6"/>
<circle cx="128.70" cy="245.58" r="2.2" fill="#000" stroke="#000" stroke-width="0.6"/>
<circle cx="148.78" cy="270.09" r="2.2" fill="#000" stroke="#000" stroke-width="0.6"/>
<circle cx="48.38" cy="291.00" r="2.2" fill="#fff" stroke="#000" stroke-width="0.6"/>
<circle cx="68.46" cy="277.30" r="2.2" fill="#fff" stroke="#000" stroke-width="0.6"/>
<circle cx="88.54" cy="228.99" r="2.2" fill="#fff" stroke="#000" stroke-width="0.6"/>
<circle cx="98.58" cy="220.34" r="2.2" fill="#fff" stroke="#000" stroke-width="0.6"/>
<circle cx="108.62" cy="233.32" r="2.2" fill="#fff" stroke="#000" stroke-width="0.6"/>
<circle cx="118.66" cy="241.97" r="2.2" fill="#fff" stroke="#000" stroke-width="0.6"/>
<circle cx="128.70" cy="247.02" r="2.2" fill="#fff" stroke="#000" stroke-width="0.6"/>
<circle cx="148.78" cy="265.04" r="2.2" fill="#fff" stroke="#000" stroke-width="0.6"/>
<rect x="209.40" y="189.84" width="10.06" height="100.66" fill="#f0f0f0"/>
<rect x="229.53" y="189.84" width="10.06" height="100.66" fill="#f0f0f0"/>
<rect x="249.66" y="189.84" width="10.07" height="100.66" fill="#f0f0f0"/>
<rect x="269.79" y="189.84" width="10.06" height="100.66" fill="#f0f0f0"/>
<rect x="289.92" y="189.84" width="10.06" height="100.66" fill="#f0f0f0"/>
<rect x="310.05" y="189.84" width="10.06" height="100.66" fill="#f0f0f0"/>
<rect x="330.18" y="189.84" width="10.06" height="100.66" fill="#f0f0f0"/>
<line x1="209.20" y1="189.84" x2="351.11" y2="189.84" stroke="#c2c2c2" stroke-width="1.3"/>
<line x1="350.31" y1="189.84" x2="350.31" y2="290.50" stroke="#c2c2c2" stroke-width="1.7"/>
<line x1="209.40" y1="189.84" x2="209.40" y2="290.50" stroke="#c2c2c2" stroke-width="1.7"/>
<line x1="207.80" y1="290.50" x2="209.40" y2="290.50" stroke="#999" stroke-width="0.7"/>
<text x="206.40" y="293.40" font-size="8.1" text-anchor="end" textLength="10.40" lengthAdjust="spacingAndGlyphs" fill="#1a1a1a">0.0</text>
<line x1="207.80" y1="276.12" x2="209.40" y2="276.12" stroke="#999" stroke-width="0.7"/>
<text x="206.40" y="279.02" font-size="8.1" text-anchor="end" textLength="10.40" lengthAdjust="spacingAndGlyphs" fill="#1a1a1a">0.2</text>
<line x1="207.80" y1="261.74" x2="209.40" y2="261.74" stroke="#999" stroke-width="0.7"/>
<text x="206.40" y="264.64" font-size="8.1" text-anchor="end" textLength="10.40" lengthAdjust="spacingAndGlyphs" fill="#1a1a1a">0.4</text>
<line x1="207.80" y1="247.36" x2="209.40" y2="247.36" stroke="#999" stroke-width="0.7"/>
<text x="206.40" y="250.26" font-size="8.1" text-anchor="end" textLength="10.40" lengthAdjust="spacingAndGlyphs" fill="#1a1a1a">0.6</text>
<line x1="207.80" y1="232.98" x2="209.40" y2="232.98" stroke="#999" stroke-width="0.7"/>
<text x="206.40" y="235.88" font-size="8.1" text-anchor="end" textLength="10.40" lengthAdjust="spacingAndGlyphs" fill="#1a1a1a">0.8</text>
<line x1="207.80" y1="218.60" x2="209.40" y2="218.60" stroke="#999" stroke-width="0.7"/>
<text x="206.40" y="221.50" font-size="8.1" text-anchor="end" textLength="10.40" lengthAdjust="spacingAndGlyphs" fill="#1a1a1a">1.0</text>
<line x1="207.80" y1="204.22" x2="209.40" y2="204.22" stroke="#999" stroke-width="0.7"/>
<text x="206.40" y="207.12" font-size="8.1" text-anchor="end" textLength="10.40" lengthAdjust="spacingAndGlyphs" fill="#1a1a1a">1.2</text>
<line x1="207.80" y1="189.84" x2="209.40" y2="189.84" stroke="#999" stroke-width="0.7"/>
<text x="206.40" y="192.74" font-size="8.1" text-anchor="end" textLength="10.40" lengthAdjust="spacingAndGlyphs" fill="#1a1a1a">1.4</text>
<line x1="209.40" y1="290.50" x2="351.11" y2="290.50" stroke="#777" stroke-width="1.0"/>
<line x1="209.40" y1="290.50" x2="209.40" y2="291.90" stroke="#888" stroke-width="0.7"/>
<text x="209.40" y="302.00" font-size="8.1" text-anchor="middle" fill="#1a1a1a">1</text>
<line x1="229.53" y1="290.50" x2="229.53" y2="291.90" stroke="#888" stroke-width="0.7"/>
<text x="229.53" y="302.00" font-size="8.1" text-anchor="middle" fill="#1a1a1a">2</text>
<line x1="249.66" y1="290.50" x2="249.66" y2="291.90" stroke="#888" stroke-width="0.7"/>
<text x="249.66" y="302.00" font-size="8.1" text-anchor="middle" fill="#1a1a1a">3</text>
<line x1="269.79" y1="290.50" x2="269.79" y2="291.90" stroke="#888" stroke-width="0.7"/>
<text x="269.79" y="302.00" font-size="8.1" text-anchor="middle" fill="#1a1a1a">4</text>
<line x1="289.92" y1="290.50" x2="289.92" y2="291.90" stroke="#888" stroke-width="0.7"/>
<text x="289.92" y="302.00" font-size="8.1" text-anchor="middle" fill="#1a1a1a">5</text>
<line x1="310.05" y1="290.50" x2="310.05" y2="291.90" stroke="#888" stroke-width="0.7"/>
<text x="310.05" y="302.00" font-size="8.1" text-anchor="middle" fill="#1a1a1a">6</text>
<line x1="330.18" y1="290.50" x2="330.18" y2="291.90" stroke="#888" stroke-width="0.7"/>
<text x="330.18" y="302.00" font-size="8.1" text-anchor="middle" fill="#1a1a1a">7</text>
<line x1="350.31" y1="290.50" x2="350.31" y2="291.90" stroke="#888" stroke-width="0.7"/>
<text x="350.31" y="302.00" font-size="8.1" text-anchor="middle" fill="#1a1a1a">8</text>
<path d="M209.40,289.78 L210.57,289.48 L211.75,289.19 L212.92,288.89 L214.10,288.60 L215.27,288.30 L216.45,288.01 L217.62,287.72 L218.79,287.43 L219.97,287.14 L221.14,286.85 L222.32,286.55 L223.49,286.23 L224.67,285.89 L225.84,285.51 L227.01,285.10 L228.19,284.63 L229.36,284.11 L230.54,283.52 L231.71,282.88 L232.89,282.18 L234.06,281.44 L235.23,280.66 L236.41,279.85 L237.58,279.01 L238.76,278.17 L239.93,277.31 L241.10,276.45 L242.28,275.56 L243.45,274.63 L244.63,273.63 L245.80,272.56 L246.98,271.38 L248.15,270.08 L249.32,268.65 L250.50,267.06 L251.67,265.33 L252.85,263.49 L254.02,261.55 L255.20,259.54 L256.37,257.50 L257.54,255.44 L258.72,253.40 L259.89,251.39 L261.07,249.44 L262.24,247.53 L263.42,245.67 L264.59,243.83 L265.76,242.02 L266.94,240.22 L268.11,238.43 L269.29,236.63 L270.46,234.82 L271.64,233.00 L272.81,231.19 L273.98,229.40 L275.16,227.66 L276.33,225.98 L277.51,224.38 L278.68,222.87 L279.86,221.48 L281.03,220.21 L282.20,219.06 L283.38,218.04 L284.55,217.13 L285.73,216.33 L286.90,215.63 L288.07,215.04 L289.25,214.53 L290.42,214.12 L291.60,213.79 L292.77,213.53 L293.95,213.36 L295.12,213.25 L296.29,213.20 L297.47,213.22 L298.64,213.33 L299.82,213.53 L300.99,213.84 L302.17,214.27 L303.34,214.80 L304.51,215.42 L305.69,216.12 L306.86,216.90 L308.04,217.74 L309.21,218.65 L310.39,219.59 L311.56,220.59 L312.73,221.62 L313.91,222.71 L315.08,223.85 L316.26,225.04 L317.43,226.29 L318.61,227.60 L319.78,228.98 L320.95,230.42 L322.13,231.93 L323.30,233.51 L324.48,235.14 L325.65,236.82 L326.82,238.56 L328.00,240.34 L329.17,242.17 L330.35,244.03 L331.52,245.94 L332.70,247.86 L333.87,249.81 L335.04,251.76 L336.22,253.72 L337.39,255.66 L338.57,257.59 L339.74,259.50 L340.92,261.37 L342.09,263.20 L343.26,265.00 L344.44,266.77 L345.61,268.53 L346.79,270.26 L347.96,271.98 L349.14,273.69 L350.31,275.40" fill="none" stroke="#3a3a3a" stroke-width="0.75" stroke-linejoin="round"/>
<path d="M209.40,289.78 L210.57,289.49 L211.75,289.19 L212.92,288.89 L214.10,288.60 L215.27,288.31 L216.45,288.01 L217.62,287.72 L218.79,287.43 L219.97,287.14 L221.14,286.85 L222.32,286.55 L223.49,286.23 L224.67,285.89 L225.84,285.51 L227.01,285.09 L228.19,284.63 L229.36,284.11 L230.54,283.53 L231.71,282.88 L232.89,282.19 L234.06,281.45 L235.23,280.67 L236.41,279.86 L237.58,279.03 L238.76,278.18 L239.93,277.31 L241.10,276.43 L242.28,275.53 L243.45,274.58 L244.63,273.57 L245.80,272.49 L246.98,271.32 L248.15,270.04 L249.32,268.64 L250.50,267.10 L251.67,265.44 L252.85,263.67 L254.02,261.82 L255.20,259.91 L256.37,257.96 L257.54,256.00 L258.72,254.05 L259.89,252.12 L261.07,250.24 L262.24,248.40 L263.42,246.60 L264.59,244.83 L265.76,243.10 L266.94,241.38 L268.11,239.69 L269.29,238.01 L270.46,236.34 L271.64,234.69 L272.81,233.08 L273.98,231.52 L275.16,230.02 L276.33,228.61 L277.51,227.31 L278.68,226.12 L279.86,225.07 L281.03,224.17 L282.20,223.40 L283.38,222.76 L284.55,222.23 L285.73,221.79 L286.90,221.43 L288.07,221.13 L289.25,220.88 L290.42,220.67 L291.60,220.48 L292.77,220.34 L293.95,220.23 L295.12,220.18 L296.29,220.19 L297.47,220.27 L298.64,220.44 L299.82,220.71 L300.99,221.09 L302.17,221.59 L303.34,222.19 L304.51,222.88 L305.69,223.67 L306.86,224.53 L308.04,225.47 L309.21,226.47 L310.39,227.54 L311.56,228.65 L312.73,229.83 L313.91,231.06 L315.08,232.36 L316.26,233.72 L317.43,235.16 L318.61,236.67 L319.78,238.26 L320.95,239.93 L322.13,241.68 L323.30,243.49 L324.48,245.34 L325.65,247.22 L326.82,249.13 L328.00,251.04 L329.17,252.94 L330.35,254.82 L331.52,256.66 L332.70,258.47 L333.87,260.23 L335.04,261.95 L336.22,263.62 L337.39,265.24 L338.57,266.80 L339.74,268.31 L340.92,269.74 L342.09,271.12 L343.26,272.45 L344.44,273.73 L345.61,274.97 L346.79,276.18 L347.96,277.37 L349.14,278.55 L350.31,279.71" fill="none" stroke="#3a3a3a" stroke-width="0.75" stroke-linejoin="round"/>
<line x1="249.66" y1="268.21" x2="249.66" y2="279.71" stroke="#5a5a5a" stroke-width="0.7"/>
<line x1="248.36" y1="268.21" x2="250.96" y2="268.21" stroke="#5a5a5a" stroke-width="0.7"/>
<line x1="248.36" y1="279.71" x2="250.96" y2="279.71" stroke="#5a5a5a" stroke-width="0.7"/>
<line x1="269.79" y1="221.48" x2="269.79" y2="250.24" stroke="#5a5a5a" stroke-width="0.7"/>
<line x1="268.49" y1="221.48" x2="271.09" y2="221.48" stroke="#5a5a5a" stroke-width="0.7"/>
<line x1="268.49" y1="250.24" x2="271.09" y2="250.24" stroke="#5a5a5a" stroke-width="0.7"/>
<line x1="279.86" y1="197.75" x2="279.86" y2="240.89" stroke="#5a5a5a" stroke-width="0.7"/>
<line x1="278.56" y1="197.75" x2="281.16" y2="197.75" stroke="#5a5a5a" stroke-width="0.7"/>
<line x1="278.56" y1="240.89" x2="281.16" y2="240.89" stroke="#5a5a5a" stroke-width="0.7"/>
<line x1="289.92" y1="207.81" x2="289.92" y2="243.76" stroke="#5a5a5a" stroke-width="0.7"/>
<line x1="288.62" y1="207.81" x2="291.22" y2="207.81" stroke="#5a5a5a" stroke-width="0.7"/>
<line x1="288.62" y1="243.76" x2="291.22" y2="243.76" stroke="#5a5a5a" stroke-width="0.7"/>
<line x1="299.99" y1="212.85" x2="299.99" y2="244.48" stroke="#5a5a5a" stroke-width="0.7"/>
<line x1="298.69" y1="212.85" x2="301.29" y2="212.85" stroke="#5a5a5a" stroke-width="0.7"/>
<line x1="298.69" y1="244.48" x2="301.29" y2="244.48" stroke="#5a5a5a" stroke-width="0.7"/>
<line x1="310.05" y1="212.85" x2="310.05" y2="244.48" stroke="#5a5a5a" stroke-width="0.7"/>
<line x1="308.75" y1="212.85" x2="311.35" y2="212.85" stroke="#5a5a5a" stroke-width="0.7"/>
<line x1="308.75" y1="244.48" x2="311.35" y2="244.48" stroke="#5a5a5a" stroke-width="0.7"/>
<line x1="330.18" y1="246.64" x2="330.18" y2="262.46" stroke="#5a5a5a" stroke-width="0.7"/>
<line x1="328.88" y1="246.64" x2="331.48" y2="246.64" stroke="#5a5a5a" stroke-width="0.7"/>
<line x1="328.88" y1="262.46" x2="331.48" y2="262.46" stroke="#5a5a5a" stroke-width="0.7"/>
<line x1="249.66" y1="264.62" x2="249.66" y2="279.00" stroke="#5a5a5a" stroke-width="0.7"/>
<line x1="248.36" y1="264.62" x2="250.96" y2="264.62" stroke="#5a5a5a" stroke-width="0.7"/>
<line x1="248.36" y1="279.00" x2="250.96" y2="279.00" stroke="#5a5a5a" stroke-width="0.7"/>
<line x1="269.79" y1="217.16" x2="269.79" y2="253.11" stroke="#5a5a5a" stroke-width="0.7"/>
<line x1="268.49" y1="217.16" x2="271.09" y2="217.16" stroke="#5a5a5a" stroke-width="0.7"/>
<line x1="268.49" y1="253.11" x2="271.09" y2="253.11" stroke="#5a5a5a" stroke-width="0.7"/>
<line x1="279.86" y1="190.56" x2="279.86" y2="246.64" stroke="#5a5a5a" stroke-width="0.7"/>
<line x1="278.56" y1="190.56" x2="281.16" y2="190.56" stroke="#5a5a5a" stroke-width="0.7"/>
<line x1="278.56" y1="246.64" x2="281.16" y2="246.64" stroke="#5a5a5a" stroke-width="0.7"/>
<line x1="289.92" y1="205.66" x2="289.92" y2="232.98" stroke="#5a5a5a" stroke-width="0.7"/>
<line x1="288.62" y1="205.66" x2="291.22" y2="205.66" stroke="#5a5a5a" stroke-width="0.7"/>
<line x1="288.62" y1="232.98" x2="291.22" y2="232.98" stroke="#5a5a5a" stroke-width="0.7"/>
<line x1="299.99" y1="206.38" x2="299.99" y2="225.07" stroke="#5a5a5a" stroke-width="0.7"/>
<line x1="298.69" y1="206.38" x2="301.29" y2="206.38" stroke="#5a5a5a" stroke-width="0.7"/>
<line x1="298.69" y1="225.07" x2="301.29" y2="225.07" stroke="#5a5a5a" stroke-width="0.7"/>
<line x1="310.05" y1="207.81" x2="310.05" y2="236.57" stroke="#5a5a5a" stroke-width="0.7"/>
<line x1="308.75" y1="207.81" x2="311.35" y2="207.81" stroke="#5a5a5a" stroke-width="0.7"/>
<line x1="308.75" y1="236.57" x2="311.35" y2="236.57" stroke="#5a5a5a" stroke-width="0.7"/>
<line x1="330.18" y1="236.57" x2="330.18" y2="256.71" stroke="#5a5a5a" stroke-width="0.7"/>
<line x1="328.88" y1="236.57" x2="331.48" y2="236.57" stroke="#5a5a5a" stroke-width="0.7"/>
<line x1="328.88" y1="256.71" x2="331.48" y2="256.71" stroke="#5a5a5a" stroke-width="0.7"/>
<rect x="227.43" y="288.40" width="4.20" height="4.20" fill="#000" stroke="#000" stroke-width="0.6"/>
<rect x="247.56" y="271.86" width="4.20" height="4.20" fill="#000" stroke="#000" stroke-width="0.6"/>
<rect x="267.69" y="233.76" width="4.20" height="4.20" fill="#000" stroke="#000" stroke-width="0.6"/>
<rect x="277.75" y="217.22" width="4.20" height="4.20" fill="#000" stroke="#000" stroke-width="0.6"/>
<rect x="287.82" y="223.69" width="4.20" height="4.20" fill="#000" stroke="#000" stroke-width="0.6"/>
<rect x="297.88" y="226.57" width="4.20" height="4.20" fill="#000" stroke="#000" stroke-width="0.6"/>
<rect x="307.95" y="226.57" width="4.20" height="4.20" fill="#000" stroke="#000" stroke-width="0.6"/>
<rect x="328.08" y="252.45" width="4.20" height="4.20" fill="#000" stroke="#000" stroke-width="0.6"/>
<rect x="227.43" y="288.40" width="4.20" height="4.20" fill="#fff" stroke="#000" stroke-width="0.6"/>
<rect x="247.56" y="269.71" width="4.20" height="4.20" fill="#fff" stroke="#000" stroke-width="0.6"/>
<rect x="267.69" y="233.04" width="4.20" height="4.20" fill="#fff" stroke="#000" stroke-width="0.6"/>
<rect x="277.75" y="216.50" width="4.20" height="4.20" fill="#fff" stroke="#000" stroke-width="0.6"/>
<rect x="287.82" y="217.22" width="4.20" height="4.20" fill="#fff" stroke="#000" stroke-width="0.6"/>
<rect x="297.88" y="213.62" width="4.20" height="4.20" fill="#fff" stroke="#000" stroke-width="0.6"/>
<rect x="307.95" y="220.09" width="4.20" height="4.20" fill="#fff" stroke="#000" stroke-width="0.6"/>
<rect x="328.08" y="244.54" width="4.20" height="4.20" fill="#fff" stroke="#000" stroke-width="0.6"/>
<text x="0.53" y="9.65" font-size="13.66" font-weight="bold" textLength="9.15" lengthAdjust="spacingAndGlyphs">A</text>
<text x="178.66" y="11.45" font-size="13.74" font-weight="bold" textLength="8.53" lengthAdjust="spacingAndGlyphs">B</text>
<text x="0.20" y="184.31" font-size="13.84" font-weight="bold" textLength="7.95" lengthAdjust="spacingAndGlyphs">C</text>
<text x="179.20" y="181.65" font-size="13.81" font-weight="bold" textLength="9.18" lengthAdjust="spacingAndGlyphs">D</text>
<text x="391.77" y="10.70" font-size="13.59" font-weight="bold" textLength="6.78" lengthAdjust="spacingAndGlyphs">E</text>
<text x="397.38" y="217.65" font-size="13.95" font-weight="bold" textLength="6.14" lengthAdjust="spacingAndGlyphs">F</text>
<text x="1.76" y="368.01" font-size="13.84" font-weight="bold" textLength="9.22" lengthAdjust="spacingAndGlyphs">G</text>
<text x="306.49" y="368.35" font-size="13.52" font-weight="bold" textLength="8.23" lengthAdjust="spacingAndGlyphs">H</text>
<text x="32.50" y="13.80" font-size="9.0" font-weight="bold" textLength="107.50" lengthAdjust="spacingAndGlyphs">CTSB activity in wild type</text>
<text x="209" y="13.3" font-size="9.0" font-weight="bold" textLength="97" lengthAdjust="spacingAndGlyphs">CTSB activity in <tspan font-style="italic">Cst3-/-</tspan></text>
<text x="28.60" y="186.50" font-size="9.0" font-weight="bold" textLength="106.40" lengthAdjust="spacingAndGlyphs">CTSL activity in wild type</text>
<text x="209.6" y="187.3" font-size="9.0" font-weight="bold" textLength="95.8" lengthAdjust="spacingAndGlyphs">CTSL activity in <tspan font-style="italic">Cst3-/-</tspan></text>
<text transform="translate(8.10,69.00) rotate(-90)" font-size="8.2" text-anchor="middle" textLength="98.90" lengthAdjust="spacingAndGlyphs">relative cathepsin B activity</text>
<text transform="translate(186.70,69.70) rotate(-90)" font-size="8.2" text-anchor="middle" textLength="96.00" lengthAdjust="spacingAndGlyphs">relative cathepsin B activity</text>
<text transform="translate(6.50,241.50) rotate(-90)" font-size="8.2" text-anchor="middle" textLength="95.00" lengthAdjust="spacingAndGlyphs">relative cathepsin L activity</text>
<text transform="translate(192.20,241.20) rotate(-90)" font-size="8.2" text-anchor="middle" textLength="95.80" lengthAdjust="spacingAndGlyphs">relative cathepsin L activity</text>
<text x="102.60" y="137.40" font-size="8.0" text-anchor="middle">pH</text>
<text x="276.40" y="137.40" font-size="8.0" text-anchor="middle">pH</text>
<text x="102.70" y="310.60" font-size="8.0" text-anchor="middle">pH</text>
<text x="273.40" y="312.20" font-size="8.0" text-anchor="middle">pH</text>
<circle cx="26.70" cy="148.30" r="2.3" fill="#000" stroke="#000" stroke-width="0.6"/>
<circle cx="26.70" cy="157.40" r="2.2" fill="#fff" stroke="#000" stroke-width="0.7"/>
<text x="32.60" y="150.20" font-size="7.8" textLength="138.60" lengthAdjust="spacingAndGlyphs">zymogen granules 0h untreated control</text>
<text x="32.60" y="159.30" font-size="7.8" textLength="108.40" lengthAdjust="spacingAndGlyphs">zymogen granules 1h caerulein</text>
<circle cx="25.00" cy="318.60" r="2.3" fill="#000" stroke="#000" stroke-width="0.6"/>
<circle cx="25.00" cy="327.80" r="2.2" fill="#fff" stroke="#000" stroke-width="0.7"/>
<text x="30.70" y="320.50" font-size="7.8" textLength="137.90" lengthAdjust="spacingAndGlyphs">zymogen granules 0h untreated control</text>
<text x="30.70" y="329.70" font-size="7.8" textLength="108.30" lengthAdjust="spacingAndGlyphs">zymogen granules 1h caerulein</text>
<rect x="203.80" y="146.40" width="3.80" height="3.80" fill="#000" stroke="#000" stroke-width="0.5"/>
<rect x="203.80" y="164.60" width="3.80" height="3.80" fill="#fff" stroke="#000" stroke-width="0.5"/>
<text x="211.9" y="150.0" font-size="7.8" textLength="146.10" lengthAdjust="spacingAndGlyphs">zymogen granules of <tspan font-style="italic">Cst3</tspan>-/- 0h untreated</text>
<text x="211.90" y="159.90" font-size="7.8" textLength="25.00" lengthAdjust="spacingAndGlyphs">control</text>
<text x="211.9" y="168.40" font-size="7.8" textLength="143.60" lengthAdjust="spacingAndGlyphs">zymogen granules of <tspan font-style="italic">Cst3</tspan>-/- 1h caerulein</text>
<rect x="201.90" y="316.20" width="3.80" height="3.80" fill="#000" stroke="#000" stroke-width="0.5"/>
<rect x="201.90" y="334.40" width="3.80" height="3.80" fill="#fff" stroke="#000" stroke-width="0.5"/>
<text x="210.2" y="319.8" font-size="7.8" textLength="146.20" lengthAdjust="spacingAndGlyphs">zymogen granules of <tspan font-style="italic">Cst3</tspan>-/- 0h untreated</text>
<text x="210.20" y="329.70" font-size="7.8" textLength="25.00" lengthAdjust="spacingAndGlyphs">control</text>
<text x="210.2" y="338.20" font-size="7.8" textLength="143.40" lengthAdjust="spacingAndGlyphs">zymogen granules of <tspan font-style="italic">Cst3</tspan>-/- 1h caerulein</text>
<path d="M125.00,42.10L125.00,47.90M122.49,43.55L127.51,46.45M127.51,43.55L122.49,46.45" stroke="#111" stroke-width="1.0" fill="none"/>
<defs><filter id="bl1" x="-20%" y="-200%" width="140%" height="500%"><feGaussianBlur stdDeviation="0.55"/></filter><filter id="bl2" x="-20%" y="-200%" width="140%" height="500%"><feGaussianBlur stdDeviation="0.8 0.6"/></filter><filter id="blS" x="-50%" y="-50%" width="200%" height="200%"><feGaussianBlur stdDeviation="1.2"/></filter><linearGradient id="gE" x1="0" y1="0" x2="1" y2="0"><stop offset="0" stop-color="#c3c3c3"/><stop offset="0.12" stop-color="#c6c6c6"/><stop offset="0.5" stop-color="#cbcbcb"/><stop offset="1" stop-color="#c9c9c9"/></linearGradient><filter id="blF" x="-30%" y="-150%" width="160%" height="400%"><feGaussianBlur stdDeviation="0.9 0.8"/></filter><filter id="blFB" x="-10%" y="-50%" width="120%" height="200%"><feGaussianBlur stdDeviation="1.6"/></filter></defs>
<rect x="413.40" y="31.90" width="232.80" height="125.90" fill="url(#gE)"/>
<g filter="url(#blS)" opacity="0.5">
<circle cx="443.5" cy="51.0" r="3.0" fill="#b4b4b4"/><circle cx="465.5" cy="93.0" r="2.0" fill="#b0b0b0"/><circle cx="480" cy="67" r="1.6" fill="#b4b4b4"/>
</g>
<g filter="url(#bl1)">
<path d="M425.40,41.60 Q432.60,41.60 439.80,41.60 L439.80,42.80 Q432.60,42.80 425.40,42.80 Z" fill="#202020" opacity="0.62"/>
<path d="M425.40,44.70 Q432.60,44.70 439.80,44.70 L439.80,45.90 Q432.60,45.90 425.40,45.90 Z" fill="#202020" opacity="0.66"/>
<path d="M425.40,50.20 Q432.60,50.20 439.80,50.20 L439.80,52.20 Q432.60,52.20 425.40,52.20 Z" fill="#202020" opacity="0.72"/>
<path d="M425.40,52.85 Q432.60,52.85 439.80,52.85 L439.80,55.15 Q432.60,55.15 425.40,55.15 Z" fill="#202020" opacity="0.88"/>
<path d="M425.40,62.50 Q432.60,63.10 439.80,62.50 L439.80,64.50 Q432.60,65.10 425.40,64.50 Z" fill="#202020" opacity="0.75"/>
</g>
<g filter="url(#bl2)">
<path d="M425.40,69.90 Q432.60,70.50 439.80,69.90 L439.80,71.50 Q432.60,72.10 425.40,71.50 Z" fill="#202020" opacity="0.45"/>
<path d="M424.90,80.70 Q432.10,81.70 439.30,80.70 L439.30,83.10 Q432.10,84.10 424.90,83.10 Z" fill="#202020" opacity="0.42"/>
<path d="M424.40,92.50 Q431.60,93.70 438.80,92.50 L438.80,94.90 Q431.60,96.10 424.40,94.90 Z" fill="#202020" opacity="0.38"/>
<path d="M423.40,117.10 Q430.60,118.90 437.80,117.10 L437.80,119.70 Q430.60,121.50 423.40,119.70 Z" fill="#202020" opacity="0.36"/>
<linearGradient id="g10" x1="0" x2="1"><stop offset="0" stop-color="#111" stop-opacity="0.9"/><stop offset="0.6" stop-color="#222" stop-opacity="0.6"/><stop offset="1" stop-color="#333" stop-opacity="0.1"/></linearGradient>
<rect x="418" y="139.7" width="18" height="1.3" fill="url(#g10)"/>
</g>
<g filter="url(#bl2)">
<path d="M439.00,124.30 Q448.25,123.60 457.50,124.30 L457.50,126.60 Q448.25,125.90 439.00,126.60 Z" fill="#1e1e1e" opacity="0.7343999999999999"/>
<path d="M439.00,130.65 Q448.25,130.05 457.50,130.65 L457.50,132.55 Q448.25,131.95 439.00,132.55 Z" fill="#1e1e1e" opacity="0.02"/>
<path d="M460.70,124.38 Q469.15,123.68 477.60,124.38 L477.60,126.68 Q469.15,125.98 460.70,126.68 Z" fill="#1e1e1e" opacity="0.7343999999999999"/>
<path d="M460.70,130.70 Q469.15,130.10 477.60,130.70 L477.60,132.60 Q469.15,132.00 460.70,132.60 Z" fill="#1e1e1e" opacity="0.02"/>
<path d="M481.60,124.46 Q490.00,123.76 498.40,124.46 L498.40,126.76 Q490.00,126.06 481.60,126.76 Z" fill="#1e1e1e" opacity="0.7343999999999999"/>
<path d="M481.60,130.75 Q490.00,130.15 498.40,130.75 L498.40,132.65 Q490.00,132.05 481.60,132.65 Z" fill="#1e1e1e" opacity="0.03"/>
<path d="M501.60,124.54 Q510.05,123.84 518.50,124.54 L518.50,126.84 Q510.05,126.14 501.60,126.84 Z" fill="#1e1e1e" opacity="0.7343999999999999"/>
<path d="M501.60,130.80 Q510.05,130.20 518.50,130.80 L518.50,132.70 Q510.05,132.10 501.60,132.70 Z" fill="#1e1e1e" opacity="0.2"/>
<path d="M503.10,146.05 Q510.05,145.65 517.00,146.05 L517.00,147.35 Q510.05,146.95 503.10,147.35 Z" fill="#1e1e1e" opacity="0.05"/>
<path d="M521.70,124.62 Q530.15,123.92 538.60,124.62 L538.60,126.92 Q530.15,126.22 521.70,126.92 Z" fill="#1e1e1e" opacity="0.7343999999999999"/>
<path d="M521.70,130.85 Q530.15,130.25 538.60,130.85 L538.60,132.75 Q530.15,132.15 521.70,132.75 Z" fill="#1e1e1e" opacity="0.24"/>
<path d="M523.20,146.15 Q530.15,145.75 537.10,146.15 L537.10,147.45 Q530.15,147.05 523.20,147.45 Z" fill="#1e1e1e" opacity="0.06"/>
<path d="M541.60,124.70 Q549.65,124.00 557.70,124.70 L557.70,127.00 Q549.65,126.30 541.60,127.00 Z" fill="#1e1e1e" opacity="0.6732"/>
<path d="M541.60,130.90 Q549.65,130.30 557.70,130.90 L557.70,132.80 Q549.65,132.20 541.60,132.80 Z" fill="#1e1e1e" opacity="0.36"/>
<path d="M543.10,146.25 Q549.65,145.85 556.20,146.25 L556.20,147.55 Q549.65,147.15 543.10,147.55 Z" fill="#1e1e1e" opacity="0.08"/>
<path d="M561.70,124.78 Q569.70,124.08 577.70,124.78 L577.70,127.08 Q569.70,126.38 561.70,127.08 Z" fill="#1e1e1e" opacity="0.6324"/>
<path d="M561.70,130.95 Q569.70,130.35 577.70,130.95 L577.70,132.85 Q569.70,132.25 561.70,132.85 Z" fill="#1e1e1e" opacity="0.5"/>
<path d="M563.20,146.35 Q569.70,145.95 576.20,146.35 L576.20,147.65 Q569.70,147.25 563.20,147.65 Z" fill="#1e1e1e" opacity="0.2"/>
<path d="M582.60,124.86 Q590.60,124.16 598.60,124.86 L598.60,127.16 Q590.60,126.46 582.60,127.16 Z" fill="#1e1e1e" opacity="0.153"/>
<path d="M582.60,131.00 Q590.60,130.40 598.60,131.00 L598.60,132.90 Q590.60,132.30 582.60,132.90 Z" fill="#1e1e1e" opacity="0.66"/>
<path d="M584.10,146.45 Q590.60,146.05 597.10,146.45 L597.10,147.75 Q590.60,147.35 584.10,147.75 Z" fill="#1e1e1e" opacity="0.2"/>
<path d="M602.60,124.94 Q611.05,124.24 619.50,124.94 L619.50,127.24 Q611.05,126.54 602.60,127.24 Z" fill="#1e1e1e" opacity="0.0408"/>
<path d="M602.60,131.05 Q611.05,130.45 619.50,131.05 L619.50,132.95 Q611.05,132.35 602.60,132.95 Z" fill="#1e1e1e" opacity="0.7"/>
<path d="M604.10,146.55 Q611.05,146.15 618.00,146.55 L618.00,147.85 Q611.05,147.45 604.10,147.85 Z" fill="#1e1e1e" opacity="0.2"/>
<path d="M624.30,125.02 Q632.75,124.32 641.20,125.02 L641.20,127.32 Q632.75,126.62 624.30,127.32 Z" fill="#1e1e1e" opacity="0.6732"/>
</g>
<text x="389.00" y="25.80" font-size="7.6" font-weight="bold" textLength="36.90" lengthAdjust="spacingAndGlyphs">MW [kDa]</text>
<line x1="389.00" y1="27.60" x2="425.90" y2="27.60" stroke="#000" stroke-width="0.7"/>
<text x="413.60" y="65.85" font-size="7.8" font-weight="bold" text-anchor="end" textLength="8.60" lengthAdjust="spacingAndGlyphs">55</text>
<line x1="416.20" y1="63.30" x2="419.90" y2="63.30" stroke="#000" stroke-width="0.9"/>
<text x="413.60" y="73.75" font-size="7.8" font-weight="bold" text-anchor="end" textLength="8.60" lengthAdjust="spacingAndGlyphs">40</text>
<line x1="416.20" y1="71.20" x2="419.90" y2="71.20" stroke="#000" stroke-width="0.9"/>
<text x="413.60" y="84.75" font-size="7.8" font-weight="bold" text-anchor="end" textLength="8.60" lengthAdjust="spacingAndGlyphs">35</text>
<line x1="416.20" y1="82.20" x2="419.90" y2="82.20" stroke="#000" stroke-width="0.9"/>
<text x="413.60" y="96.65" font-size="7.8" font-weight="bold" text-anchor="end" textLength="8.60" lengthAdjust="spacingAndGlyphs">25</text>
<line x1="416.20" y1="94.10" x2="419.90" y2="94.10" stroke="#000" stroke-width="0.9"/>
<text x="413.60" y="121.65" font-size="7.8" font-weight="bold" text-anchor="end" textLength="8.60" lengthAdjust="spacingAndGlyphs">15</text>
<line x1="416.20" y1="119.10" x2="419.90" y2="119.10" stroke="#000" stroke-width="0.9"/>
<text x="413.60" y="142.85" font-size="7.8" font-weight="bold" text-anchor="end" textLength="8.60" lengthAdjust="spacingAndGlyphs">10</text>
<line x1="416.20" y1="140.30" x2="419.90" y2="140.30" stroke="#000" stroke-width="0.9"/>
<path d="M642.4,125.7 H646.0 V116.4 H649.4" fill="none" stroke="#000" stroke-width="0.9"/>
<line x1="623.70" y1="131.00" x2="647.50" y2="136.60" stroke="#000" stroke-width="0.9"/>
<text x="651.00" y="119.90" font-size="7.6">cystatin C</text>
<text x="648.80" y="137.90" font-size="7.6">processed</text>
<text x="648.80" y="147.80" font-size="7.6">cystatin C</text>
<text x="394.20" y="167.10" font-size="7.6" textLength="39.40" lengthAdjust="spacingAndGlyphs">time in min</text>
<text x="394.20" y="180.10" font-size="7.6" textLength="23.40" lengthAdjust="spacingAndGlyphs">trypsin</text>
<text x="447.40" y="167.10" font-size="7.6" text-anchor="middle">0</text>
<text x="447.40" y="177.00" font-size="7.0" text-anchor="middle">+</text>
<text x="468.60" y="167.10" font-size="7.6" text-anchor="middle">0.5</text>
<text x="468.60" y="177.00" font-size="7.0" text-anchor="middle">+</text>
<text x="489.40" y="167.10" font-size="7.6" text-anchor="middle">1</text>
<text x="489.40" y="177.00" font-size="7.0" text-anchor="middle">+</text>
<text x="508.70" y="167.10" font-size="7.6" text-anchor="middle">2</text>
<text x="508.70" y="177.00" font-size="7.0" text-anchor="middle">+</text>
<text x="528.70" y="167.10" font-size="7.6" text-anchor="middle">3</text>
<text x="528.70" y="177.00" font-size="7.0" text-anchor="middle">+</text>
<text x="548.90" y="167.10" font-size="7.6" text-anchor="middle">5</text>
<text x="548.90" y="177.00" font-size="7.0" text-anchor="middle">+</text>
<text x="568.20" y="167.10" font-size="7.6" text-anchor="middle">10</text>
<text x="568.20" y="177.00" font-size="7.0" text-anchor="middle">+</text>
<text x="589.60" y="167.10" font-size="7.6" text-anchor="middle">30</text>
<text x="589.60" y="177.00" font-size="7.0" text-anchor="middle">+</text>
<text x="611.50" y="167.10" font-size="7.6" text-anchor="middle">60</text>
<text x="611.50" y="177.00" font-size="7.0" text-anchor="middle">+</text>
<text x="632.80" y="167.10" font-size="7.6" text-anchor="middle">60</text>
<text x="632.80" y="177.00" font-size="7.0" text-anchor="middle">-</text>
<rect x="434.5" y="241.0" width="203.0" height="21.0" fill="#f1f1f1" filter="url(#blFB)"/>
<text x="394.20" y="234.90" font-size="7.6" font-weight="bold" textLength="36.80" lengthAdjust="spacingAndGlyphs">MW [kDa]</text>
<line x1="394.20" y1="236.50" x2="431.00" y2="236.50" stroke="#000" stroke-width="0.7"/>
<text x="429.40" y="250.90" font-size="8.5" font-weight="bold" text-anchor="end" textLength="9.00" lengthAdjust="spacingAndGlyphs">15</text>
<line x1="431.70" y1="248.40" x2="435.80" y2="248.40" stroke="#000" stroke-width="1.0"/>
<g filter="url(#blF)">
<path d="M439.90,248.80 Q447.75,248.80 455.60,248.80 L455.60,257.80 Q447.75,257.80 439.90,257.80 Z" fill="#303030" opacity="0.28"/>
<path d="M460.50,248.80 Q468.15,248.80 475.80,248.80 L475.80,257.80 Q468.15,257.80 460.50,257.80 Z" fill="#303030" opacity="0.28"/>
<path d="M480.60,248.80 Q488.60,248.80 496.60,248.80 L496.60,257.80 Q488.60,257.80 480.60,257.80 Z" fill="#303030" opacity="0.28"/>
<path d="M501.50,248.80 Q509.10,248.80 516.70,248.80 L516.70,257.80 Q509.10,257.80 501.50,257.80 Z" fill="#303030" opacity="0.28"/>
<path d="M521.50,248.80 Q529.15,248.80 536.80,248.80 L536.80,257.80 Q529.15,257.80 521.50,257.80 Z" fill="#303030" opacity="0.28"/>
<path d="M541.20,248.80 Q548.35,248.80 555.50,248.80 L555.50,257.80 Q548.35,257.80 541.20,257.80 Z" fill="#303030" opacity="0.28"/>
<path d="M561.00,248.80 Q568.55,248.80 576.10,248.80 L576.10,257.80 Q568.55,257.80 561.00,257.80 Z" fill="#303030" opacity="0.28"/>
<path d="M581.80,248.80 Q588.30,248.80 594.80,248.80 L594.80,257.80 Q588.30,257.80 581.80,257.80 Z" fill="#303030" opacity="0.28"/>
<path d="M600.20,248.80 Q606.70,248.80 613.20,248.80 L613.20,257.80 Q606.70,257.80 600.20,257.80 Z" fill="#303030" opacity="0.28"/>
<path d="M619.40,245.00 Q626.65,245.00 633.90,245.00 L633.90,254.00 Q626.65,254.00 619.40,254.00 Z" fill="#303030" opacity="0.28"/>
<path d="M439.90,251.50 Q447.75,252.40 455.60,251.50 L455.60,255.70 Q447.75,254.80 439.90,255.70 Z" fill="#050505" opacity="0.97"/>
<path d="M460.50,251.50 Q468.15,252.40 475.80,251.50 L475.80,255.70 Q468.15,254.80 460.50,255.70 Z" fill="#050505" opacity="0.97"/>
<path d="M480.60,251.50 Q488.60,252.40 496.60,251.50 L496.60,255.70 Q488.60,254.80 480.60,255.70 Z" fill="#050505" opacity="0.97"/>
<path d="M501.50,249.90 Q509.10,251.10 516.70,249.90 L516.70,255.30 Q509.10,254.10 501.50,255.30 Z" fill="#151515" opacity="0.3"/>
<path d="M501.50,250.00 Q509.10,249.00 516.70,250.00 L516.70,251.80 Q509.10,250.80 501.50,251.80 Z" fill="#050505" opacity="0.9"/>
<path d="M501.50,253.40 Q509.10,254.00 516.70,253.40 L516.70,255.40 Q509.10,256.00 501.50,255.40 Z" fill="#050505" opacity="0.85"/>
<path d="M521.50,249.90 Q529.15,251.10 536.80,249.90 L536.80,255.30 Q529.15,254.10 521.50,255.30 Z" fill="#151515" opacity="0.3"/>
<path d="M521.50,250.00 Q529.15,249.00 536.80,250.00 L536.80,251.80 Q529.15,250.80 521.50,251.80 Z" fill="#050505" opacity="0.9"/>
<path d="M521.50,253.40 Q529.15,254.00 536.80,253.40 L536.80,255.40 Q529.15,256.00 521.50,255.40 Z" fill="#050505" opacity="0.85"/>
<path d="M541.20,248.90 Q548.35,248.50 555.50,248.90 L555.50,251.50 Q548.35,251.10 541.20,251.50 Z" fill="#0e0e0e" opacity="0.95"/>
<path d="M541.20,253.70 Q548.35,253.30 555.50,253.70 L555.50,256.30 Q548.35,255.90 541.20,256.30 Z" fill="#0e0e0e" opacity="0.65"/>
<path d="M561.00,248.90 Q568.55,248.50 576.10,248.90 L576.10,251.50 Q568.55,251.10 561.00,251.50 Z" fill="#0e0e0e" opacity="1.0"/>
<path d="M561.00,253.70 Q568.55,253.30 576.10,253.70 L576.10,256.30 Q568.55,255.90 561.00,256.30 Z" fill="#0e0e0e" opacity="0.75"/>
<path d="M581.80,248.90 Q588.30,248.50 594.80,248.90 L594.80,251.50 Q588.30,251.10 581.80,251.50 Z" fill="#0e0e0e" opacity="0.85"/>
<path d="M581.80,253.70 Q588.30,253.30 594.80,253.70 L594.80,256.30 Q588.30,255.90 581.80,256.30 Z" fill="#0e0e0e" opacity="0.85"/>
<path d="M600.20,248.90 Q606.70,248.50 613.20,248.90 L613.20,251.50 Q606.70,251.10 600.20,251.50 Z" fill="#0e0e0e" opacity="0.45"/>
<path d="M600.20,253.70 Q606.70,253.30 613.20,253.70 L613.20,256.30 Q606.70,255.90 600.20,256.30 Z" fill="#0e0e0e" opacity="0.95"/>
<path d="M619.40,248.00 Q626.65,246.20 633.90,248.00 L633.90,251.00 Q626.65,249.20 619.40,251.00 Z" fill="#0a0a0a" opacity="0.95"/>
</g>
<path d="M634.7,248.7 H638.5 V239.1 H642.4" fill="none" stroke="#000" stroke-width="0.9"/>
<line x1="616.00" y1="254.30" x2="639.80" y2="259.40" stroke="#000" stroke-width="0.9"/>
<text x="643.60" y="241.70" font-size="7.6">cystatin C</text>
<text x="642.70" y="261.60" font-size="7.6">processed</text>
<text x="642.70" y="271.90" font-size="7.6">cystatin C</text>
<text x="392.70" y="272.50" font-size="7.6" textLength="39.30" lengthAdjust="spacingAndGlyphs">time in min</text>
<text x="392.70" y="285.90" font-size="7.6" textLength="23.40" lengthAdjust="spacingAndGlyphs">trypsin</text>
<text x="445.90" y="272.50" font-size="7.6" text-anchor="middle">0</text>
<text x="445.90" y="283.10" font-size="7.0" text-anchor="middle">+</text>
<text x="466.50" y="272.50" font-size="7.6" text-anchor="middle">0.5</text>
<text x="466.50" y="283.10" font-size="7.0" text-anchor="middle">+</text>
<text x="487.30" y="272.50" font-size="7.6" text-anchor="middle">1</text>
<text x="487.30" y="283.10" font-size="7.0" text-anchor="middle">+</text>
<text x="506.50" y="272.50" font-size="7.6" text-anchor="middle">2</text>
<text x="506.50" y="283.10" font-size="7.0" text-anchor="middle">+</text>
<text x="527.00" y="272.50" font-size="7.6" text-anchor="middle">3</text>
<text x="527.00" y="283.10" font-size="7.0" text-anchor="middle">+</text>
<text x="547.00" y="272.50" font-size="7.6" text-anchor="middle">5</text>
<text x="547.00" y="283.10" font-size="7.0" text-anchor="middle">+</text>
<text x="566.40" y="272.50" font-size="7.6" text-anchor="middle">10</text>
<text x="566.40" y="283.10" font-size="7.0" text-anchor="middle">+</text>
<text x="587.90" y="272.50" font-size="7.6" text-anchor="middle">30</text>
<text x="587.90" y="283.10" font-size="7.0" text-anchor="middle">+</text>
<text x="609.10" y="272.50" font-size="7.6" text-anchor="middle">60</text>
<text x="609.10" y="283.10" font-size="7.0" text-anchor="middle">+</text>
<text x="630.60" y="272.50" font-size="7.6" text-anchor="middle">60</text>
<text x="630.60" y="283.10" font-size="7.0" text-anchor="middle">-</text>
<line x1="31.90" y1="395.00" x2="31.90" y2="502.60" stroke="#9a9a9a" stroke-width="1.6"/>
<line x1="31.50" y1="502.40" x2="193.60" y2="502.40" stroke="#222" stroke-width="0.9"/>
<line x1="28.80" y1="502.40" x2="32.00" y2="502.40" stroke="#7a7a7a" stroke-width="0.8"/>
<text x="26.70" y="505.30" font-size="8.1" text-anchor="end" textLength="9.90" lengthAdjust="spacingAndGlyphs" fill="#333">0.0</text>
<line x1="28.80" y1="481.00" x2="32.00" y2="481.00" stroke="#7a7a7a" stroke-width="0.8"/>
<text x="26.70" y="483.90" font-size="8.1" text-anchor="end" textLength="9.90" lengthAdjust="spacingAndGlyphs" fill="#333">0.5</text>
<line x1="28.80" y1="459.60" x2="32.00" y2="459.60" stroke="#7a7a7a" stroke-width="0.8"/>
<text x="26.70" y="462.50" font-size="8.1" text-anchor="end" textLength="9.90" lengthAdjust="spacingAndGlyphs" fill="#333">1.0</text>
<line x1="28.80" y1="438.20" x2="32.00" y2="438.20" stroke="#7a7a7a" stroke-width="0.8"/>
<text x="26.70" y="441.10" font-size="8.1" text-anchor="end" textLength="9.90" lengthAdjust="spacingAndGlyphs" fill="#333">1.5</text>
<line x1="28.80" y1="416.80" x2="32.00" y2="416.80" stroke="#7a7a7a" stroke-width="0.8"/>
<text x="26.70" y="419.70" font-size="8.1" text-anchor="end" textLength="9.90" lengthAdjust="spacingAndGlyphs" fill="#333">2.0</text>
<line x1="28.80" y1="395.40" x2="32.00" y2="395.40" stroke="#7a7a7a" stroke-width="0.8"/>
<text x="26.70" y="398.30" font-size="8.1" text-anchor="end" textLength="9.90" lengthAdjust="spacingAndGlyphs" fill="#333">2.5</text>
<text transform="translate(8.90,445.50) rotate(-90)" font-size="8.2" text-anchor="middle" textLength="96.30" lengthAdjust="spacingAndGlyphs">relative cathepsin B activity</text>
<rect x="39.30" y="464.74" width="26.00" height="37.66" fill="#ffffff" stroke="#222" stroke-width="0.8"/>
<line x1="52.30" y1="502.40" x2="52.30" y2="506.00" stroke="#444" stroke-width="0.8"/>
<rect x="79.40" y="492.98" width="26.00" height="9.42" fill="#808080" stroke="#222" stroke-width="0.8"/>
<line x1="92.40" y1="502.40" x2="92.40" y2="506.00" stroke="#444" stroke-width="0.8"/>
<rect x="119.50" y="470.30" width="26.00" height="32.10" fill="#0070c0" stroke="#222" stroke-width="0.8"/>
<line x1="132.50" y1="502.40" x2="132.50" y2="506.00" stroke="#444" stroke-width="0.8"/>
<rect x="159.80" y="425.36" width="26.00" height="77.04" fill="#ff0000" stroke="#222" stroke-width="0.8"/>
<line x1="172.80" y1="502.40" x2="172.80" y2="506.00" stroke="#444" stroke-width="0.8"/>
<line x1="52.30" y1="457.20" x2="52.30" y2="471.30" stroke="#222" stroke-width="0.7"/>
<line x1="43.70" y1="457.20" x2="60.90" y2="457.20" stroke="#222" stroke-width="0.7"/>
<line x1="43.70" y1="471.30" x2="60.90" y2="471.30" stroke="#222" stroke-width="0.7"/>
<circle cx="43.20" cy="457.80" r="2.1" fill="none" stroke="#111" stroke-width="0.85"/>
<circle cx="52.30" cy="459.70" r="2.1" fill="none" stroke="#111" stroke-width="0.85"/>
<circle cx="61.10" cy="455.80" r="2.1" fill="none" stroke="#111" stroke-width="0.85"/>
<circle cx="43.20" cy="469.50" r="2.1" fill="none" stroke="#111" stroke-width="0.85"/>
<circle cx="52.30" cy="470.20" r="2.1" fill="none" stroke="#111" stroke-width="0.85"/>
<circle cx="61.10" cy="473.10" r="2.1" fill="none" stroke="#111" stroke-width="0.85"/>
<line x1="92.40" y1="490.80" x2="92.40" y2="493.50" stroke="#222" stroke-width="0.7"/>
<line x1="85.40" y1="490.80" x2="99.40" y2="490.80" stroke="#222" stroke-width="0.7"/>
<line x1="85.40" y1="493.50" x2="99.40" y2="493.50" stroke="#222" stroke-width="0.7"/>
<circle cx="81.30" cy="491.30" r="2.1" fill="none" stroke="#111" stroke-width="0.85"/>
<circle cx="85.80" cy="493.10" r="2.1" fill="none" stroke="#111" stroke-width="0.85"/>
<circle cx="90.30" cy="493.80" r="2.1" fill="none" stroke="#111" stroke-width="0.85"/>
<circle cx="94.30" cy="489.00" r="2.1" fill="none" stroke="#111" stroke-width="0.85"/>
<circle cx="98.50" cy="493.80" r="2.1" fill="none" stroke="#111" stroke-width="0.85"/>
<circle cx="103.00" cy="495.30" r="2.1" fill="none" stroke="#111" stroke-width="0.85"/>
<line x1="132.50" y1="465.30" x2="132.50" y2="476.00" stroke="#222" stroke-width="0.7"/>
<line x1="126.50" y1="465.30" x2="138.50" y2="465.30" stroke="#222" stroke-width="0.7"/>
<line x1="126.50" y1="476.00" x2="138.50" y2="476.00" stroke="#222" stroke-width="0.7"/>
<circle cx="122.30" cy="465.70" r="2.1" fill="none" stroke="#111" stroke-width="0.85"/>
<circle cx="129.30" cy="466.80" r="2.1" fill="none" stroke="#111" stroke-width="0.85"/>
<circle cx="142.80" cy="465.70" r="2.1" fill="none" stroke="#111" stroke-width="0.85"/>
<circle cx="136.10" cy="469.80" r="2.1" fill="none" stroke="#111" stroke-width="0.85"/>
<circle cx="129.30" cy="475.30" r="2.1" fill="none" stroke="#111" stroke-width="0.85"/>
<circle cx="136.10" cy="476.80" r="2.1" fill="none" stroke="#111" stroke-width="0.85"/>
<line x1="172.60" y1="402.60" x2="172.60" y2="446.40" stroke="#222" stroke-width="0.7"/>
<line x1="163.90" y1="402.60" x2="181.30" y2="402.60" stroke="#222" stroke-width="0.7"/>
<line x1="163.90" y1="446.40" x2="181.30" y2="446.40" stroke="#222" stroke-width="0.7"/>
<circle cx="163.60" cy="405.10" r="2.1" fill="none" stroke="#111" stroke-width="0.85"/>
<circle cx="172.50" cy="407.80" r="2.1" fill="none" stroke="#111" stroke-width="0.85"/>
<circle cx="181.90" cy="402.10" r="2.1" fill="none" stroke="#111" stroke-width="0.85"/>
<circle cx="163.80" cy="442.40" r="2.1" fill="none" stroke="#111" stroke-width="0.85"/>
<circle cx="172.70" cy="443.30" r="2.1" fill="none" stroke="#111" stroke-width="0.85"/>
<circle cx="181.70" cy="446.70" r="2.1" fill="none" stroke="#111" stroke-width="0.85"/>
<path d="M91.6,376.3 V370.1 H173.9 V376.3" fill="none" stroke="#555" stroke-width="0.9"/>
<path d="M51.4,397.0 V391.1 H173.9 V397.7" fill="none" stroke="#555" stroke-width="0.9"/>
<path d="M51.4,448.8 V441.3 H92.8 V478.0" fill="none" stroke="#555" stroke-width="0.9"/>
<path d="M133.90,360.00L133.90,365.80M131.39,361.45L136.41,364.35M136.41,361.45L131.39,364.35" stroke="#111" stroke-width="1.0" fill="none"/>
<path d="M109.70,382.20L109.70,388.00M107.19,383.65L112.21,386.55M112.21,383.65L107.19,386.55" stroke="#111" stroke-width="1.0" fill="none"/>
<path d="M72.50,433.10L72.50,438.90M69.99,434.55L75.01,437.45M75.01,434.55L69.99,437.45" stroke="#111" stroke-width="1.0" fill="none"/>
<rect x="200.50" y="405.60" width="21.90" height="11.00" fill="#ffffff" stroke="#222" stroke-width="0.8"/>
<rect x="200.50" y="420.30" width="21.90" height="10.20" fill="#808080" stroke="#222" stroke-width="0.8"/>
<rect x="200.50" y="446.00" width="21.90" height="10.40" fill="#0070c0" stroke="#222" stroke-width="0.8"/>
<rect x="200.50" y="467.60" width="21.90" height="10.70" fill="#ff0000" stroke="#222" stroke-width="0.8"/>
<text x="230.30" y="414.10" font-size="7.6">cathepsin B</text>
<text x="230.30" y="428.50" font-size="7.6">cathepsin B +</text>
<text x="230.30" y="439.00" font-size="7.6">cystatin C</text>
<text x="230.30" y="452.70" font-size="7.6">cathepsin B +</text>
<text x="230.30" y="462.60" font-size="7.6">trypsin</text>
<text x="230.30" y="476.60" font-size="7.6">cathepsin B +</text>
<text x="230.30" y="486.50" font-size="7.6">trypsin processed</text>
<text x="230.30" y="497.00" font-size="7.6">cystatin C</text>
<line x1="338.00" y1="395.00" x2="338.00" y2="502.60" stroke="#222" stroke-width="0.9"/>
<line x1="337.50" y1="502.40" x2="499.40" y2="502.40" stroke="#222" stroke-width="0.9"/>
<line x1="335.00" y1="502.40" x2="338.00" y2="502.40" stroke="#222" stroke-width="0.8"/>
<text x="334.80" y="505.30" font-size="8.1" text-anchor="end" textLength="10.40" lengthAdjust="spacingAndGlyphs" fill="#222">0.0</text>
<line x1="335.00" y1="475.65" x2="338.00" y2="475.65" stroke="#222" stroke-width="0.8"/>
<text x="334.80" y="478.55" font-size="8.1" text-anchor="end" textLength="10.40" lengthAdjust="spacingAndGlyphs" fill="#222">0.5</text>
<line x1="335.00" y1="448.90" x2="338.00" y2="448.90" stroke="#222" stroke-width="0.8"/>
<text x="334.80" y="451.80" font-size="8.1" text-anchor="end" textLength="10.40" lengthAdjust="spacingAndGlyphs" fill="#222">1.0</text>
<line x1="335.00" y1="422.15" x2="338.00" y2="422.15" stroke="#222" stroke-width="0.8"/>
<text x="334.80" y="425.05" font-size="8.1" text-anchor="end" textLength="10.40" lengthAdjust="spacingAndGlyphs" fill="#222">1.5</text>
<line x1="335.00" y1="395.40" x2="338.00" y2="395.40" stroke="#222" stroke-width="0.8"/>
<text x="334.80" y="398.30" font-size="8.1" text-anchor="end" textLength="10.40" lengthAdjust="spacingAndGlyphs" fill="#222">2.0</text>
<text transform="translate(314.30,449.60) rotate(-90)" font-size="8.2" text-anchor="middle" textLength="94.50" lengthAdjust="spacingAndGlyphs">relative cathepsin L activity</text>
<rect x="346.00" y="449.70" width="25.80" height="52.70" fill="#ffffff" stroke="#222" stroke-width="0.8"/>
<line x1="358.90" y1="502.40" x2="358.90" y2="506.00" stroke="#444" stroke-width="0.8"/>
<rect x="386.40" y="497.05" width="25.80" height="5.35" fill="#808080" stroke="#222" stroke-width="0.8"/>
<line x1="399.30" y1="502.40" x2="399.30" y2="506.00" stroke="#444" stroke-width="0.8"/>
<rect x="426.30" y="459.60" width="25.80" height="42.80" fill="#0070c0" stroke="#222" stroke-width="0.8"/>
<line x1="439.20" y1="502.40" x2="439.20" y2="506.00" stroke="#444" stroke-width="0.8"/>
<rect x="466.30" y="495.71" width="25.80" height="6.69" fill="#ff0000" stroke="#222" stroke-width="0.8"/>
<line x1="479.20" y1="502.40" x2="479.20" y2="506.00" stroke="#444" stroke-width="0.8"/>
<line x1="358.40" y1="417.30" x2="358.40" y2="480.20" stroke="#222" stroke-width="0.7"/>
<line x1="352.20" y1="417.30" x2="364.60" y2="417.30" stroke="#222" stroke-width="0.7"/>
<line x1="352.20" y1="480.20" x2="364.60" y2="480.20" stroke="#222" stroke-width="0.7"/>
<circle cx="355.20" cy="419.30" r="2.0" fill="none" stroke="#111" stroke-width="0.85"/>
<circle cx="361.60" cy="423.50" r="2.0" fill="none" stroke="#111" stroke-width="0.85"/>
<circle cx="355.90" cy="475.30" r="2.0" fill="none" stroke="#111" stroke-width="0.85"/>
<circle cx="361.60" cy="477.00" r="2.0" fill="none" stroke="#111" stroke-width="0.85"/>
<line x1="399.20" y1="495.00" x2="399.20" y2="499.20" stroke="#222" stroke-width="0.7"/>
<line x1="392.20" y1="495.00" x2="406.20" y2="495.00" stroke="#222" stroke-width="0.7"/>
<line x1="392.20" y1="499.20" x2="406.20" y2="499.20" stroke="#222" stroke-width="0.7"/>
<circle cx="388.70" cy="494.50" r="2.0" fill="none" stroke="#111" stroke-width="0.85"/>
<circle cx="395.10" cy="495.70" r="2.0" fill="none" stroke="#111" stroke-width="0.85"/>
<circle cx="401.80" cy="496.20" r="2.0" fill="none" stroke="#111" stroke-width="0.85"/>
<circle cx="408.80" cy="499.70" r="2.0" fill="none" stroke="#111" stroke-width="0.85"/>
<line x1="439.30" y1="438.00" x2="439.30" y2="479.90" stroke="#222" stroke-width="0.7"/>
<line x1="433.10" y1="438.00" x2="445.50" y2="438.00" stroke="#222" stroke-width="0.7"/>
<line x1="433.10" y1="479.90" x2="445.50" y2="479.90" stroke="#222" stroke-width="0.7"/>
<circle cx="436.30" cy="438.70" r="2.0" fill="none" stroke="#111" stroke-width="0.85"/>
<circle cx="442.10" cy="443.30" r="2.0" fill="none" stroke="#111" stroke-width="0.85"/>
<circle cx="436.00" cy="476.40" r="2.0" fill="none" stroke="#111" stroke-width="0.85"/>
<circle cx="442.10" cy="477.10" r="2.0" fill="none" stroke="#111" stroke-width="0.85"/>
<line x1="479.20" y1="494.00" x2="479.20" y2="498.00" stroke="#222" stroke-width="0.7"/>
<line x1="472.20" y1="494.00" x2="486.20" y2="494.00" stroke="#222" stroke-width="0.7"/>
<line x1="472.20" y1="498.00" x2="486.20" y2="498.00" stroke="#222" stroke-width="0.7"/>
<circle cx="469.00" cy="492.40" r="2.0" fill="none" stroke="#111" stroke-width="0.85"/>
<circle cx="476.00" cy="494.30" r="2.0" fill="none" stroke="#111" stroke-width="0.85"/>
<circle cx="482.40" cy="495.90" r="2.0" fill="none" stroke="#111" stroke-width="0.85"/>
<circle cx="489.40" cy="497.80" r="2.0" fill="none" stroke="#111" stroke-width="0.85"/>
<path d="M357.7,401.8 V394.7 H480.6 V400.9" fill="none" stroke="#333" stroke-width="0.9"/>
<path d="M357.7,412.3 V405.3 H399.2 V441.6" fill="none" stroke="#333" stroke-width="0.9"/>
<path d="M415.60,385.60L415.60,391.40M413.09,387.05L418.11,389.95M418.11,387.05L413.09,389.95" stroke="#111" stroke-width="1.0" fill="none"/>
<path d="M379.40,396.50L379.40,402.30M376.89,397.95L381.91,400.85M381.91,397.95L376.89,400.85" stroke="#111" stroke-width="1.0" fill="none"/>
<rect x="513.60" y="405.50" width="22.10" height="10.80" fill="#ffffff" stroke="#222" stroke-width="0.8"/>
<rect x="513.60" y="419.80" width="22.10" height="10.70" fill="#808080" stroke="#222" stroke-width="0.8"/>
<rect x="513.60" y="445.90" width="22.10" height="10.70" fill="#0070c0" stroke="#222" stroke-width="0.8"/>
<rect x="513.60" y="468.20" width="22.10" height="10.80" fill="#ff0000" stroke="#222" stroke-width="0.8"/>
<text x="543.80" y="413.90" font-size="7.6">cathepsin L</text>
<text x="543.80" y="427.80" font-size="7.6">cathepsin L +</text>
<text x="543.80" y="437.80" font-size="7.6">cystatin C</text>
<text x="543.80" y="452.00" font-size="7.6">cathepsin L +</text>
<text x="543.80" y="462.00" font-size="7.6">trypsin</text>
<text x="543.80" y="475.50" font-size="7.6">cathepsin L +</text>
<text x="543.80" y="486.20" font-size="7.6">trypsin processed</text>
<text x="543.80" y="496.40" font-size="7.6">cystatin C</text>
</svg></body></html>
